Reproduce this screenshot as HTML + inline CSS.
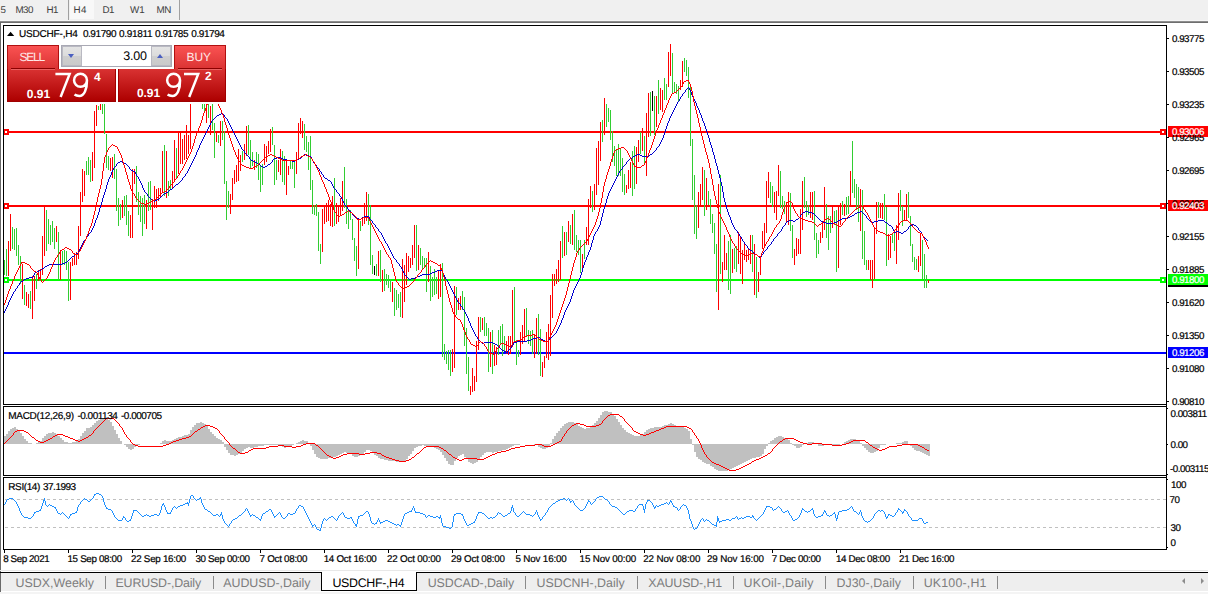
<!DOCTYPE html>
<html><head><meta charset="utf-8"><title>USDCHF-,H4</title>
<style>
html,body{margin:0;padding:0;background:#fff;}
body{width:1208px;height:594px;position:relative;overflow:hidden;font-family:"Liberation Sans",sans-serif;text-rendering:geometricPrecision;}
.a{position:absolute;white-space:nowrap;}
.t{position:absolute;white-space:nowrap;line-height:20px;}
.k{-webkit-text-stroke:0.2px currentColor;}
#tb{left:0;top:0;width:1208px;height:20px;background:#f0f0f0;}
#tbl1{left:0;top:20px;width:1208px;height:1px;background:#f6f6f6;}
#tbl2{left:0;top:21px;width:1208px;height:1px;background:#8e8e8e;}
#tbl3{left:0;top:22px;width:1208px;height:1px;background:#6e6e6e;}
#lb{left:0;top:22px;width:1px;height:570px;background:#696969;}
.sep{top:0;width:1px;height:20px;background:#a0a0a0;}
#h4bg{left:70px;top:0;width:24px;height:19px;background:#f8f8f8;}
.tag{left:1168px;width:40px;height:11px;}
#tabs{left:0;top:573px;width:1208px;height:18px;background:#eee;}
#tabsl{left:0;top:572px;width:1208px;height:1px;background:#000;}
#tabsl0{left:0;top:570px;width:1208px;height:1px;background:#e8e8e8;}
.tsep{top:576px;width:1px;height:13px;background:#8a8a8a;}
.rb{background:linear-gradient(#fa5252,#d93232);border:1px solid #b01010;border-bottom:none;box-sizing:border-box;}
.rl{background:linear-gradient(#d93232,#ad0000);border:1px solid #a00000;border-top:none;box-sizing:border-box;}
.spb{background:linear-gradient(#e4e4e4 0%,#dcdcdc 48%,#cfcfcf 52%,#cacaca 100%);box-sizing:border-box;border:1px solid #b9b9c2}
</style></head><body>
<div class="a" id="tb"></div><div class="a" id="tbl1"></div><div class="a" id="tbl2"></div><div class="a" id="tbl3"></div><div class="a" id="lb"></div>
<div class="a" id="h4bg"></div>
<div class="a sep" style="left:68px"></div><div class="a sep" style="left:179px"></div>
<svg id="ch" class="a" style="left:0;top:0" width="1208" height="594" viewBox="0 0 1208 594" shape-rendering="crispEdges">
<rect x="4" y="131" width="1162" height="2" fill="#f00"/>
<rect x="4" y="205" width="1162" height="2" fill="#f00"/>
<rect x="4" y="279" width="1162" height="2" fill="#0f0"/>
<rect x="4" y="352" width="1162" height="2" fill="#00f"/>
<path d="M4.5 260V275M6.5 249V276M12.5 227V249M14.5 229V250M16.5 228V256M18.5 245V265M20.5 256V284M24.5 285V305M30.5 291V309M36.5 274V289M46.5 210V251M48.5 219V244M50.5 225V245M52.5 221V242M54.5 228V249M58.5 232V280M62.5 251V265M64.5 250V265M66.5 251V270M68.5 262V301M86.5 161V175M88.5 157V175M90.5 160V182M98.5 106V110M102.5 104V114M104.5 104V134M106.5 134V168M108.5 156V170M114.5 154V179M116.5 169V211M118.5 198V226M120.5 204V220M124.5 196V216M126.5 195V225M128.5 211V236M136.5 166V202M138.5 192V215M140.5 196V222M142.5 198V236M144.5 195V224M148.5 182V211M150.5 181V210M164.5 145V196M168.5 181V196M170.5 180V190M176.5 148V178M202.5 104V109M204.5 104V112M208.5 104V118M212.5 104V130M214.5 123V158M218.5 135V143M222.5 121V140M224.5 131V184M226.5 181V220M228.5 191V208M242.5 151V162M248.5 125V155M250.5 140V168M252.5 152V166M256.5 152V168M258.5 154V180M260.5 166V192M262.5 164V185M272.5 127V145M274.5 145V185M276.5 160V180M282.5 151V182M284.5 156V185M290.5 160V169M292.5 161V169M294.5 160V188M304.5 124V150M306.5 136V152M308.5 142V170M310.5 136V190M312.5 180V214M314.5 205V215M316.5 204V216M318.5 212V251M320.5 244V264M334.5 178V226M344.5 167V208M346.5 199V224M348.5 209V229M350.5 210V220M352.5 219V240M354.5 238V261M356.5 246V276M360.5 221V231M368.5 194V225M370.5 205V265M372.5 255V274M376.5 264V276M380.5 250V282M384.5 269V291M386.5 274V285M388.5 275V288M390.5 279V292M394.5 288V316M396.5 290V310M398.5 294V308M400.5 292V317M416.5 225V271M420.5 248V265M422.5 256V270M424.5 258V268M426.5 258V292M430.5 266V301M432.5 277V297M434.5 269V295M436.5 277V294M442.5 263V357M444.5 344V360M446.5 351V364M448.5 350V370M450.5 350V376M456.5 287V315M462.5 291V310M464.5 297V346M466.5 328V374M468.5 357V391M480.5 317V332M484.5 317V336M486.5 323V336M488.5 328V372M492.5 330V374M498.5 330V355M500.5 326V344M502.5 324V356M504.5 336V352M514.5 287V342M516.5 340V365M518.5 350V357M526.5 308V336M528.5 330V344M530.5 331V346M532.5 330V354M538.5 314V355M540.5 329V376M562.5 226V258M566.5 232V255M570.5 225V244M574.5 210V250M576.5 235V252M578.5 240V255M580.5 240V273M584.5 240V259M592.5 191V212M602.5 120V142M606.5 104V127M608.5 108V122M610.5 110V140M612.5 131V162M614.5 146V166M616.5 150V176M618.5 144V176M620.5 148V176M622.5 158V192M624.5 174V195M632.5 151V196M634.5 146V189M640.5 132V154M644.5 136V164M650.5 92V136M654.5 96V135M658.5 80V114M664.5 78V100M666.5 84V100M672.5 53V94M674.5 82V92M676.5 84V94M678.5 86V102M684.5 58V72M686.5 60V76M688.5 67V98M690.5 86V146M692.5 139V200M694.5 175V234M696.5 205V239M704.5 170V216M708.5 191V205M710.5 199V224M712.5 214V233M714.5 223V254M716.5 244V292M720.5 175V274M728.5 241V290M730.5 235V294M734.5 248V269M736.5 246V272M752.5 235V272M756.5 257V298M770.5 182V203M772.5 186V207M780.5 171V208M782.5 196V209M784.5 201V214M790.5 193V231M792.5 225V258M804.5 177V208M806.5 201V217M808.5 205V215M814.5 191V240M816.5 233V258M818.5 240V254M826.5 204V238M828.5 216V250M830.5 216V233M834.5 211V225M836.5 210V272M842.5 201V215M846.5 197V215M848.5 196V214M852.5 141V193M854.5 179V198M856.5 184V210M858.5 187V222M862.5 190V259M864.5 231V265M866.5 260V270M878.5 202V218M884.5 194V220M886.5 207V266M892.5 234V243M894.5 232V251M900.5 190V211M902.5 206V226M908.5 192V218M910.5 216V246M912.5 244V262M914.5 257V270M916.5 259V270M922.5 240V279M924.5 254V288M926.5 275V288" stroke="#32cd32" stroke-width="1" fill="none"/>
<path d="M8.5 241V276M10.5 214V251M22.5 264V299M26.5 292V306M28.5 294V308M32.5 276V319M34.5 276V301M38.5 270V281M40.5 269V280M42.5 236V275M44.5 206V256M56.5 226V242M60.5 250V280M70.5 262V300M72.5 258V266M74.5 254V265M76.5 252V265M78.5 226V259M80.5 192V236M82.5 169V202M84.5 171V196M92.5 152V181M94.5 111V168M96.5 105V126M100.5 104V110M110.5 158V171M112.5 157V178M122.5 200V218M130.5 215V238M132.5 169V238M134.5 169V184M146.5 200V229M152.5 199V230M154.5 186V208M156.5 189V208M158.5 188V201M160.5 188V198M162.5 151V192M166.5 151V198M172.5 171V188M174.5 140V182M178.5 132V174M180.5 131V164M182.5 139V164M184.5 135V160M186.5 125V159M188.5 135V154M190.5 104V149M206.5 104V123M210.5 106V135M216.5 133V142M220.5 121V146M230.5 194V214M232.5 178V200M234.5 170V184M236.5 165V182M238.5 149V181M240.5 155V171M244.5 144V160M246.5 126V156M254.5 160V170M264.5 144V165M266.5 146V162M268.5 141V154M270.5 129V152M278.5 160V172M280.5 149V175M286.5 160V195M288.5 166V175M296.5 152V174M298.5 123V160M300.5 118V134M302.5 121V138M322.5 209V252M324.5 205V224M326.5 203V222M328.5 200V221M330.5 204V226M332.5 196V227M336.5 203V224M338.5 206V222M340.5 198V216M342.5 181V211M358.5 219V269M362.5 219V226M364.5 203V224M366.5 192V221M378.5 251V276M382.5 270V292M392.5 282V302M402.5 259V318M404.5 265V302M406.5 253V285M408.5 256V272M410.5 258V268M412.5 245V265M414.5 225V258M418.5 245V270M428.5 252V282M438.5 270V299M440.5 264V297M452.5 349V372M454.5 286V368M458.5 298V310M460.5 296V310M470.5 386V395M472.5 368V392M474.5 376V391M476.5 341V382M478.5 317V350M482.5 318V330M490.5 332V367M494.5 345V366M496.5 347V365M506.5 341V354M508.5 336V355M510.5 336V354M512.5 290V347M520.5 332V355M522.5 325V344M524.5 309V341M534.5 334V358M536.5 318V354M542.5 362V377M544.5 356V368M546.5 332V358M548.5 324V360M550.5 295V356M552.5 274V318M554.5 274V286M556.5 269V284M558.5 260V282M560.5 241V280M564.5 232V256M568.5 221V242M572.5 214V245M582.5 254V268M586.5 227V245M588.5 199V245M590.5 186V208M594.5 184V210M596.5 148V195M598.5 141V185M600.5 122V161M604.5 98V135M626.5 185V193M628.5 170V189M630.5 162V188M636.5 147V184M638.5 140V162M642.5 128V151M646.5 113V176M648.5 93V137M656.5 96V127M660.5 88V110M662.5 90V112M668.5 52V87M670.5 44V76M680.5 80V90M682.5 61V87M698.5 192V228M700.5 184V206M702.5 167V200M706.5 178V210M718.5 184V310M722.5 262V282M724.5 235V270M726.5 253V270M732.5 249V273M738.5 232V264M740.5 236V274M742.5 250V284M744.5 244V260M746.5 250V262M748.5 248V260M750.5 235V264M754.5 244V295M758.5 272V292M760.5 257V275M762.5 231V249M764.5 223V248M766.5 181V233M768.5 172V198M774.5 192V213M776.5 191V220M778.5 165V196M786.5 202V222M788.5 192V225M794.5 249V265M796.5 238V256M798.5 239V254M800.5 209V254M802.5 181V230M810.5 192V218M812.5 192V220M820.5 232V243M822.5 222V238M824.5 187V230M832.5 205V228M838.5 205V268M840.5 203V225M844.5 204V216M850.5 171V207M860.5 189V231M868.5 260V270M870.5 260V280M872.5 260V288M874.5 227V279M876.5 202V234M880.5 203V218M882.5 203V219M888.5 234V260M890.5 236V258M896.5 225V264M898.5 193V240M904.5 210V220M906.5 194V220M918.5 256V272M920.5 233V266M928.5 280V283" stroke="#f00" stroke-width="1" fill="none"/>
<path d="M374.5 266V275M652.5 91V111" stroke="#000" stroke-width="1" fill="none"/>
<path d="M4.5 311v2M5.5 309v2M6.5 307v2M7.5 305v2M8.5 302v3M9.5 300v2M10.5 298v2M11.5 296v2M12.5 294v2M13.5 292v2M14.5 291v1M15.5 289v2M16.5 288v1M17.5 286v2M18.5 285v1M19.5 283v2M20.5 282v1M21.5 281v1M22.5 281v1M23.5 280v1M24.5 279v1M25.5 279v1M26.5 278v1M27.5 278v1M28.5 278v1M29.5 277v1M30.5 277v1M31.5 277v1M32.5 277v1M33.5 275v2M34.5 273v2M35.5 272v1M36.5 272v1M37.5 271v1M38.5 271v1M39.5 270v1M40.5 270v1M41.5 269v1M42.5 268v1M43.5 268v1M44.5 267v1M45.5 266v1M46.5 266v1M47.5 265v1M48.5 265v1M49.5 264v1M50.5 264v1M51.5 264v1M52.5 264v1M53.5 264v1M54.5 264v1M55.5 264v1M56.5 264v1M57.5 264v1M58.5 264v1M59.5 264v1M60.5 264v1M61.5 264v1M62.5 263v1M63.5 263v1M64.5 263v1M65.5 262v1M66.5 262v1M67.5 261v1M68.5 260v1M69.5 259v1M70.5 258v1M71.5 257v1M72.5 256v1M73.5 256v1M74.5 255v1M75.5 254v1M76.5 253v1M77.5 253v1M78.5 251v2M79.5 249v2M80.5 247v2M81.5 245v2M82.5 243v2M83.5 241v2M84.5 240v1M85.5 239v1M86.5 237v2M87.5 236v1M88.5 234v2M89.5 233v1M90.5 232v1M91.5 230v2M92.5 228v2M93.5 226v2M94.5 223v3M95.5 220v3M96.5 218v2M97.5 215v3M98.5 212v3M99.5 208v4M100.5 205v3M101.5 202v3M102.5 198v4M103.5 195v3M104.5 192v3M105.5 189v3M106.5 185v4M107.5 182v3M108.5 179v3M109.5 177v2M110.5 175v2M111.5 172v3M112.5 170v2M113.5 168v2M114.5 167v1M115.5 166v1M116.5 164v2M117.5 163v1M118.5 162v1M119.5 162v1M120.5 161v1M121.5 161v1M122.5 162v1M123.5 162v1M124.5 163v1M125.5 163v1M126.5 164v1M127.5 165v1M128.5 166v1M129.5 167v2M130.5 169v1M131.5 170v1M132.5 170v1M133.5 171v1M134.5 171v1M135.5 172v2M136.5 174v2M137.5 176v1M138.5 177v2M139.5 179v2M140.5 181v2M141.5 183v2M142.5 185v3M143.5 188v2M144.5 190v2M145.5 192v1M146.5 193v1M147.5 194v2M148.5 196v1M149.5 197v1M150.5 198v1M151.5 199v1M152.5 200v1M153.5 200v1M154.5 201v1M155.5 200v1M156.5 200v1M157.5 199v1M158.5 199v1M159.5 198v1M160.5 197v1M161.5 196v1M162.5 195v1M163.5 194v1M164.5 193v1M165.5 193v1M166.5 192v1M167.5 192v1M168.5 191v1M169.5 190v1M170.5 189v1M171.5 189v1M172.5 188v1M173.5 187v1M174.5 186v1M175.5 185v1M176.5 184v1M177.5 184v1M178.5 183v1M179.5 182v1M180.5 181v1M181.5 180v1M182.5 178v2M183.5 177v1M184.5 176v1M185.5 174v2M186.5 173v1M187.5 171v2M188.5 169v2M189.5 167v2M190.5 165v2M191.5 163v2M192.5 161v2M193.5 159v2M194.5 157v2M195.5 155v2M196.5 152v3M197.5 150v2M198.5 148v2M199.5 145v3M200.5 143v2M201.5 141v2M202.5 139v2M203.5 137v2M204.5 135v2M205.5 133v2M206.5 131v2M207.5 129v2M208.5 127v2M209.5 125v2M210.5 123v2M211.5 121v2M212.5 120v1M213.5 119v1M214.5 118v1M215.5 117v1M216.5 116v1M217.5 115v1M218.5 115v1M219.5 114v1M220.5 114v1M221.5 113v1M222.5 113v1M223.5 114v1M224.5 115v2M225.5 117v1M226.5 118v1M227.5 119v2M228.5 121v2M229.5 123v2M230.5 125v2M231.5 127v2M232.5 129v2M233.5 131v2M234.5 133v2M235.5 135v2M236.5 137v2M237.5 139v2M238.5 141v2M239.5 143v2M240.5 145v2M241.5 147v2M242.5 149v1M243.5 150v1M244.5 151v2M245.5 153v1M246.5 154v1M247.5 155v1M248.5 156v1M249.5 157v2M250.5 159v1M251.5 160v1M252.5 160v1M253.5 161v1M254.5 161v1M255.5 162v1M256.5 162v1M257.5 163v1M258.5 164v1M259.5 164v1M260.5 165v1M261.5 166v1M262.5 166v1M263.5 167v1M264.5 167v1M265.5 166v1M266.5 166v1M267.5 165v1M268.5 164v1M269.5 164v1M270.5 163v1M271.5 162v1M272.5 160v2M273.5 159v1M274.5 158v1M275.5 158v1M276.5 158v1M277.5 157v1M278.5 157v1M279.5 157v1M280.5 157v1M281.5 158v1M282.5 158v1M283.5 159v1M284.5 159v1M285.5 159v1M286.5 159v1M287.5 160v1M288.5 160v1M289.5 160v1M290.5 160v1M291.5 160v1M292.5 161v1M293.5 161v1M294.5 161v1M295.5 160v1M296.5 160v1M297.5 159v1M298.5 159v1M299.5 158v1M300.5 158v1M301.5 157v1M302.5 156v1M303.5 155v1M304.5 154v1M305.5 154v1M306.5 155v1M307.5 155v1M308.5 155v1M309.5 156v1M310.5 156v1M311.5 157v2M312.5 159v2M313.5 161v2M314.5 163v1M315.5 164v1M316.5 165v2M317.5 167v1M318.5 168v1M319.5 169v2M320.5 171v1M321.5 172v2M322.5 174v1M323.5 175v2M324.5 177v1M325.5 178v1M326.5 178v1M327.5 179v1M328.5 180v1M329.5 180v1M330.5 181v1M331.5 182v2M332.5 184v2M333.5 186v2M334.5 188v1M335.5 189v1M336.5 190v2M337.5 192v1M338.5 193v1M339.5 194v2M340.5 196v1M341.5 197v2M342.5 199v2M343.5 201v2M344.5 203v2M345.5 205v1M346.5 206v1M347.5 207v2M348.5 209v1M349.5 210v1M350.5 211v1M351.5 212v1M352.5 213v2M353.5 215v1M354.5 216v1M355.5 217v1M356.5 217v1M357.5 218v1M358.5 218v1M359.5 219v1M360.5 219v1M361.5 218v1M362.5 217v1M363.5 217v1M364.5 216v1M365.5 216v1M366.5 216v1M367.5 216v1M368.5 216v1M369.5 217v2M370.5 219v1M371.5 220v1M372.5 221v2M373.5 223v1M374.5 224v1M375.5 225v2M376.5 227v1M377.5 228v1M378.5 229v2M379.5 231v1M380.5 232v1M381.5 233v2M382.5 235v2M383.5 237v2M384.5 239v2M385.5 241v2M386.5 243v1M387.5 244v2M388.5 246v2M389.5 248v2M390.5 250v2M391.5 252v2M392.5 254v2M393.5 256v2M394.5 258v1M395.5 259v1M396.5 260v2M397.5 262v1M398.5 263v1M399.5 264v2M400.5 266v1M401.5 267v2M402.5 269v2M403.5 271v2M404.5 273v2M405.5 275v1M406.5 276v1M407.5 277v1M408.5 278v1M409.5 279v1M410.5 279v1M411.5 278v1M412.5 278v1M413.5 278v1M414.5 278v1M415.5 277v1M416.5 277v1M417.5 276v1M418.5 276v1M419.5 276v1M420.5 275v1M421.5 275v1M422.5 274v1M423.5 274v1M424.5 274v1M425.5 274v1M426.5 274v1M427.5 274v1M428.5 274v1M429.5 274v1M430.5 273v1M431.5 273v1M432.5 272v1M433.5 272v1M434.5 272v1M435.5 271v1M436.5 271v1M437.5 270v1M438.5 270v1M439.5 270v1M440.5 270v1M441.5 270v1M442.5 271v2M443.5 273v2M444.5 275v2M445.5 277v2M446.5 279v1M447.5 280v2M448.5 282v2M449.5 284v2M450.5 286v2M451.5 288v2M452.5 290v2M453.5 292v2M454.5 294v2M455.5 296v2M456.5 298v2M457.5 300v2M458.5 302v1M459.5 303v1M460.5 304v2M461.5 306v1M462.5 307v2M463.5 309v1M464.5 310v2M465.5 312v2M466.5 314v2M467.5 316v2M468.5 318v3M469.5 321v2M470.5 323v3M471.5 326v2M472.5 328v2M473.5 330v2M474.5 332v2M475.5 334v2M476.5 336v1M477.5 337v2M478.5 339v1M479.5 340v1M480.5 341v1M481.5 342v1M482.5 343v1M483.5 343v1M484.5 342v1M485.5 342v1M486.5 342v1M487.5 342v1M488.5 342v1M489.5 342v1M490.5 342v1M491.5 342v1M492.5 342v1M493.5 343v1M494.5 343v1M495.5 344v1M496.5 344v1M497.5 345v1M498.5 346v1M499.5 347v1M500.5 348v1M501.5 349v1M502.5 350v1M503.5 350v1M504.5 351v1M505.5 351v1M506.5 352v1M507.5 351v1M508.5 350v1M509.5 349v1M510.5 348v1M511.5 346v2M512.5 345v1M513.5 343v2M514.5 342v1M515.5 342v1M516.5 342v1M517.5 341v1M518.5 341v1M519.5 341v1M520.5 341v1M521.5 341v1M522.5 341v1M523.5 341v1M524.5 341v1M525.5 341v1M526.5 341v1M527.5 340v1M528.5 340v1M529.5 340v1M530.5 340v1M531.5 339v1M532.5 339v1M533.5 338v1M534.5 338v1M535.5 338v1M536.5 338v1M537.5 337v1M538.5 337v1M539.5 337v1M540.5 338v1M541.5 339v1M542.5 339v1M543.5 340v1M544.5 340v1M545.5 341v1M546.5 341v1M547.5 341v1M548.5 340v1M549.5 339v1M550.5 338v1M551.5 337v1M552.5 336v1M553.5 335v1M554.5 334v1M555.5 333v1M556.5 331v2M557.5 329v2M558.5 327v2M559.5 325v2M560.5 323v2M561.5 320v3M562.5 318v2M563.5 315v3M564.5 312v3M565.5 310v2M566.5 308v2M567.5 306v2M568.5 304v2M569.5 302v2M570.5 299v3M571.5 296v3M572.5 293v3M573.5 290v3M574.5 288v2M575.5 286v2M576.5 284v2M577.5 282v2M578.5 280v2M579.5 278v2M580.5 275v3M581.5 272v3M582.5 268v4M583.5 265v3M584.5 262v3M585.5 260v2M586.5 257v3M587.5 255v2M588.5 252v3M589.5 250v2M590.5 247v3M591.5 243v4M592.5 240v3M593.5 236v4M594.5 234v2M595.5 232v2M596.5 231v1M597.5 229v2M598.5 227v2M599.5 225v2M600.5 221v4M601.5 217v4M602.5 213v4M603.5 209v4M604.5 206v3M605.5 203v3M606.5 199v4M607.5 196v3M608.5 193v3M609.5 191v2M610.5 189v2M611.5 187v2M612.5 185v2M613.5 183v2M614.5 181v2M615.5 179v2M616.5 177v2M617.5 175v2M618.5 173v2M619.5 171v2M620.5 170v1M621.5 169v1M622.5 167v2M623.5 166v1M624.5 165v1M625.5 164v1M626.5 162v2M627.5 161v1M628.5 160v1M629.5 159v1M630.5 158v1M631.5 158v1M632.5 157v1M633.5 156v1M634.5 156v1M635.5 155v1M636.5 155v1M637.5 154v1M638.5 154v1M639.5 154v1M640.5 155v1M641.5 155v1M642.5 156v1M643.5 156v1M644.5 156v1M645.5 156v1M646.5 156v1M647.5 156v1M648.5 156v1M649.5 155v1M650.5 154v1M651.5 154v1M652.5 153v1M653.5 152v1M654.5 151v1M655.5 150v1M656.5 148v2M657.5 147v1M658.5 146v1M659.5 144v2M660.5 142v2M661.5 140v2M662.5 138v2M663.5 135v3M664.5 132v3M665.5 129v3M666.5 126v3M667.5 123v3M668.5 121v2M669.5 118v3M670.5 116v2M671.5 114v2M672.5 112v2M673.5 110v2M674.5 108v2M675.5 106v2M676.5 104v2M677.5 102v2M678.5 101v1M679.5 99v2M680.5 97v2M681.5 96v1M682.5 94v2M683.5 93v1M684.5 92v1M685.5 90v2M686.5 89v1M687.5 88v1M688.5 87v1M689.5 88v2M690.5 90v2M691.5 92v3M692.5 95v2M693.5 97v2M694.5 99v2M695.5 101v2M696.5 103v3M697.5 106v2M698.5 108v2M699.5 110v3M700.5 113v2M701.5 115v3M702.5 118v3M703.5 121v2M704.5 123v3M705.5 126v3M706.5 129v3M707.5 132v3M708.5 135v3M709.5 138v4M710.5 142v3M711.5 145v3M712.5 148v4M713.5 152v3M714.5 155v4M715.5 159v4M716.5 163v3M717.5 166v4M718.5 170v4M719.5 174v4M720.5 178v4M721.5 182v4M722.5 186v6M723.5 192v6M724.5 198v4M725.5 202v3M726.5 205v4M727.5 209v3M728.5 212v3M729.5 215v2M730.5 217v3M731.5 220v3M732.5 223v2M733.5 225v2M734.5 227v2M735.5 229v1M736.5 230v1M737.5 231v2M738.5 233v1M739.5 234v2M740.5 236v1M741.5 237v2M742.5 239v2M743.5 241v1M744.5 242v2M745.5 244v1M746.5 245v1M747.5 246v2M748.5 248v1M749.5 249v1M750.5 250v1M751.5 250v1M752.5 251v1M753.5 252v1M754.5 253v1M755.5 254v1M756.5 254v1M757.5 255v1M758.5 256v1M759.5 257v1M760.5 257v1M761.5 255v2M762.5 254v1M763.5 252v2M764.5 251v1M765.5 250v1M766.5 249v1M767.5 247v2M768.5 246v1M769.5 245v1M770.5 244v1M771.5 242v2M772.5 241v1M773.5 239v2M774.5 238v1M775.5 237v1M776.5 236v1M777.5 234v2M778.5 233v1M779.5 232v1M780.5 231v1M781.5 229v2M782.5 227v2M783.5 226v1M784.5 225v1M785.5 223v2M786.5 222v1M787.5 221v1M788.5 221v1M789.5 220v1M790.5 220v1M791.5 220v1M792.5 220v1M793.5 221v1M794.5 221v1M795.5 220v1M796.5 219v1M797.5 219v1M798.5 218v1M799.5 217v1M800.5 215v2M801.5 214v1M802.5 213v1M803.5 212v1M804.5 212v1M805.5 211v1M806.5 211v1M807.5 211v1M808.5 212v1M809.5 212v1M810.5 212v1M811.5 212v1M812.5 213v1M813.5 213v1M814.5 214v1M815.5 215v1M816.5 216v1M817.5 217v1M818.5 218v1M819.5 219v1M820.5 220v1M821.5 221v1M822.5 221v1M823.5 222v1M824.5 222v1M825.5 222v1M826.5 223v1M827.5 223v1M828.5 223v1M829.5 223v1M830.5 223v1M831.5 223v1M832.5 223v1M833.5 223v1M834.5 222v1M835.5 222v1M836.5 222v1M837.5 221v1M838.5 220v1M839.5 220v1M840.5 219v1M841.5 219v1M842.5 218v1M843.5 218v1M844.5 218v1M845.5 218v1M846.5 218v1M847.5 218v1M848.5 217v1M849.5 217v1M850.5 216v1M851.5 216v1M852.5 215v1M853.5 215v1M854.5 214v1M855.5 213v1M856.5 213v1M857.5 212v1M858.5 212v1M859.5 212v1M860.5 211v1M861.5 211v1M862.5 212v1M863.5 213v1M864.5 214v1M865.5 215v1M866.5 216v2M867.5 218v1M868.5 219v1M869.5 220v1M870.5 221v1M871.5 221v1M872.5 222v1M873.5 222v1M874.5 221v1M875.5 221v1M876.5 221v1M877.5 221v1M878.5 220v1M879.5 220v1M880.5 220v1M881.5 220v1M882.5 220v1M883.5 220v1M884.5 221v1M885.5 222v1M886.5 222v1M887.5 223v1M888.5 224v1M889.5 225v1M890.5 225v1M891.5 226v1M892.5 227v2M893.5 229v2M894.5 231v2M895.5 232v1M896.5 231v1M897.5 231v1M898.5 231v1M899.5 232v1M900.5 232v1M901.5 233v1M902.5 233v1M903.5 232v1M904.5 231v1M905.5 231v1M906.5 230v1M907.5 229v1M908.5 227v2M909.5 226v1M910.5 225v1M911.5 225v1M912.5 224v1M913.5 224v1M914.5 225v1M915.5 225v1M916.5 226v1M917.5 227v1M918.5 228v2M919.5 230v1M920.5 231v1M921.5 232v2M922.5 234v2M923.5 236v1M924.5 237v1M925.5 238v1M926.5 239v1M927.5 240v1" stroke="#0000cd" stroke-width="1" fill="none"/>
<path d="M4.5 303v2M5.5 300v3M6.5 297v3M7.5 294v3M8.5 291v3M9.5 289v2M10.5 286v3M11.5 284v2M12.5 281v3M13.5 279v2M14.5 276v3M15.5 274v2M16.5 272v2M17.5 270v2M18.5 268v2M19.5 266v2M20.5 264v2M21.5 262v2M22.5 262v1M23.5 262v1M24.5 262v1M25.5 263v1M26.5 263v1M27.5 264v1M28.5 264v1M29.5 265v1M30.5 266v2M31.5 268v1M32.5 269v1M33.5 270v1M34.5 271v1M35.5 271v1M36.5 272v1M37.5 273v2M38.5 275v2M39.5 277v2M40.5 279v1M41.5 280v2M42.5 282v1M43.5 281v1M44.5 280v1M45.5 279v1M46.5 278v1M47.5 276v2M48.5 274v2M49.5 272v2M50.5 269v3M51.5 267v2M52.5 264v3M53.5 262v2M54.5 260v2M55.5 258v2M56.5 257v1M57.5 255v2M58.5 254v1M59.5 252v2M60.5 251v1M61.5 250v1M62.5 249v1M63.5 249v1M64.5 248v1M65.5 247v1M66.5 247v1M67.5 248v1M68.5 248v1M69.5 249v1M70.5 249v1M71.5 250v1M72.5 251v2M73.5 253v1M74.5 253v1M75.5 254v1M76.5 254v1M77.5 254v1M78.5 252v2M79.5 251v1M80.5 249v2M81.5 247v2M82.5 245v2M83.5 243v2M84.5 241v2M85.5 239v2M86.5 236v3M87.5 234v2M88.5 231v3M89.5 228v3M90.5 226v2M91.5 223v3M92.5 219v4M93.5 215v4M94.5 211v4M95.5 207v4M96.5 202v5M97.5 197v5M98.5 193v4M99.5 189v4M100.5 185v4M101.5 179v6M102.5 171v8M103.5 163v8M104.5 157v6M105.5 155v2M106.5 152v3M107.5 150v2M108.5 148v2M109.5 147v1M110.5 146v1M111.5 145v1M112.5 144v1M113.5 145v1M114.5 145v1M115.5 146v1M116.5 146v1M117.5 147v2M118.5 149v2M119.5 151v2M120.5 153v2M121.5 155v3M122.5 158v4M123.5 162v3M124.5 165v3M125.5 168v4M126.5 172v3M127.5 175v4M128.5 179v3M129.5 182v3M130.5 185v4M131.5 189v2M132.5 191v2M133.5 193v1M134.5 194v2M135.5 196v2M136.5 198v1M137.5 199v1M138.5 200v1M139.5 201v1M140.5 202v1M141.5 203v1M142.5 203v1M143.5 203v1M144.5 204v1M145.5 204v1M146.5 204v1M147.5 203v1M148.5 203v1M149.5 202v1M150.5 202v1M151.5 201v1M152.5 200v1M153.5 200v1M154.5 199v1M155.5 199v1M156.5 198v1M157.5 197v1M158.5 196v1M159.5 195v1M160.5 194v1M161.5 193v1M162.5 192v1M163.5 192v1M164.5 191v1M165.5 191v1M166.5 190v1M167.5 189v1M168.5 188v1M169.5 186v2M170.5 185v1M171.5 184v1M172.5 183v1M173.5 182v1M174.5 180v2M175.5 179v1M176.5 178v1M177.5 176v2M178.5 175v1M179.5 173v2M180.5 171v2M181.5 170v1M182.5 168v2M183.5 166v2M184.5 164v2M185.5 162v2M186.5 160v2M187.5 158v2M188.5 156v2M189.5 154v2M190.5 152v2M191.5 149v3M192.5 146v3M193.5 143v3M194.5 139v4M195.5 136v3M196.5 133v3M197.5 131v2M198.5 128v3M199.5 126v2M200.5 123v3M201.5 120v3M202.5 116v4M203.5 113v3M204.5 111v2M205.5 108v3M206.5 105v3M207.5 102v3M208.5 100v2M209.5 98v2M210.5 96v2M211.5 94v2M212.5 92v2M213.5 93v2M214.5 95v2M215.5 97v2M216.5 99v2M217.5 101v2M218.5 103v3M219.5 106v2M220.5 108v2M221.5 110v3M222.5 113v2M223.5 115v3M224.5 118v4M225.5 122v3M226.5 125v3M227.5 128v4M228.5 132v3M229.5 135v3M230.5 138v3M231.5 141v3M232.5 144v3M233.5 147v3M234.5 150v2M235.5 152v3M236.5 155v2M237.5 157v2M238.5 159v2M239.5 161v1M240.5 162v2M241.5 164v1M242.5 165v1M243.5 165v1M244.5 166v1M245.5 166v1M246.5 167v1M247.5 167v1M248.5 167v1M249.5 168v1M250.5 168v1M251.5 168v1M252.5 168v1M253.5 167v1M254.5 167v1M255.5 166v1M256.5 166v1M257.5 165v1M258.5 164v1M259.5 163v1M260.5 162v1M261.5 161v1M262.5 160v1M263.5 159v1M264.5 158v1M265.5 157v1M266.5 156v1M267.5 156v1M268.5 155v1M269.5 155v1M270.5 154v1M271.5 154v1M272.5 155v1M273.5 155v1M274.5 156v1M275.5 156v1M276.5 157v1M277.5 157v1M278.5 158v1M279.5 158v1M280.5 159v1M281.5 159v1M282.5 160v1M283.5 160v1M284.5 160v1M285.5 160v1M286.5 160v1M287.5 160v1M288.5 160v1M289.5 160v1M290.5 160v1M291.5 160v1M292.5 160v1M293.5 160v1M294.5 160v1M295.5 160v1M296.5 160v1M297.5 159v1M298.5 158v1M299.5 158v1M300.5 157v1M301.5 156v1M302.5 156v1M303.5 155v1M304.5 155v1M305.5 154v1M306.5 154v1M307.5 155v1M308.5 156v1M309.5 156v1M310.5 157v1M311.5 158v1M312.5 159v2M313.5 161v1M314.5 162v2M315.5 164v2M316.5 166v2M317.5 168v2M318.5 170v2M319.5 172v3M320.5 175v2M321.5 177v3M322.5 180v2M323.5 182v2M324.5 184v3M325.5 187v2M326.5 189v3M327.5 192v2M328.5 194v3M329.5 197v3M330.5 200v2M331.5 202v3M332.5 205v2M333.5 207v3M334.5 210v2M335.5 212v1M336.5 213v2M337.5 215v1M338.5 216v1M339.5 216v1M340.5 215v1M341.5 215v1M342.5 214v1M343.5 214v1M344.5 213v1M345.5 212v1M346.5 212v1M347.5 211v1M348.5 210v1M349.5 211v1M350.5 212v1M351.5 212v1M352.5 213v1M353.5 214v1M354.5 215v1M355.5 216v1M356.5 217v2M357.5 219v1M358.5 220v1M359.5 219v1M360.5 219v1M361.5 218v1M362.5 218v1M363.5 217v1M364.5 217v1M365.5 217v1M366.5 217v1M367.5 217v1M368.5 217v2M369.5 219v2M370.5 221v2M371.5 223v2M372.5 225v2M373.5 227v2M374.5 229v2M375.5 231v2M376.5 233v2M377.5 235v2M378.5 237v2M379.5 239v2M380.5 241v1M381.5 242v2M382.5 244v2M383.5 246v2M384.5 248v2M385.5 250v2M386.5 252v2M387.5 254v1M388.5 255v2M389.5 257v1M390.5 258v2M391.5 260v4M392.5 264v4M393.5 268v4M394.5 272v4M395.5 276v4M396.5 280v2M397.5 282v1M398.5 283v2M399.5 285v1M400.5 286v1M401.5 287v1M402.5 287v1M403.5 288v1M404.5 288v1M405.5 287v1M406.5 287v1M407.5 286v1M408.5 286v1M409.5 285v1M410.5 284v1M411.5 283v1M412.5 282v1M413.5 281v1M414.5 279v2M415.5 278v1M416.5 277v1M417.5 275v2M418.5 274v1M419.5 273v1M420.5 272v1M421.5 270v2M422.5 269v1M423.5 268v1M424.5 267v1M425.5 265v2M426.5 264v1M427.5 263v1M428.5 262v1M429.5 261v1M430.5 260v1M431.5 261v1M432.5 261v1M433.5 262v1M434.5 262v1M435.5 263v1M436.5 263v1M437.5 264v1M438.5 265v1M439.5 265v1M440.5 266v2M441.5 268v2M442.5 270v3M443.5 273v4M444.5 277v4M445.5 281v5M446.5 286v4M447.5 290v4M448.5 294v4M449.5 298v4M450.5 302v3M451.5 305v3M452.5 308v4M453.5 312v2M454.5 314v1M455.5 315v2M456.5 317v1M457.5 318v1M458.5 319v1M459.5 319v1M460.5 320v2M461.5 322v2M462.5 324v3M463.5 327v3M464.5 330v2M465.5 332v3M466.5 335v2M467.5 337v2M468.5 339v1M469.5 340v2M470.5 342v2M471.5 344v1M472.5 344v1M473.5 345v1M474.5 345v1M475.5 346v1M476.5 346v1M477.5 345v1M478.5 343v2M479.5 342v1M480.5 341v1M481.5 342v1M482.5 342v1M483.5 343v1M484.5 344v2M485.5 346v1M486.5 347v2M487.5 349v2M488.5 351v1M489.5 352v1M490.5 352v1M491.5 353v1M492.5 353v1M493.5 354v1M494.5 352v2M495.5 351v1M496.5 349v2M497.5 348v1M498.5 347v1M499.5 345v2M500.5 344v1M501.5 343v1M502.5 343v1M503.5 343v1M504.5 344v1M505.5 344v1M506.5 344v1M507.5 345v1M508.5 345v1M509.5 346v1M510.5 346v1M511.5 345v1M512.5 343v2M513.5 342v1M514.5 341v1M515.5 341v1M516.5 341v1M517.5 340v1M518.5 340v1M519.5 340v1M520.5 340v1M521.5 339v1M522.5 338v1M523.5 337v1M524.5 336v1M525.5 336v1M526.5 336v1M527.5 335v1M528.5 335v1M529.5 335v1M530.5 335v1M531.5 335v1M532.5 334v1M533.5 334v1M534.5 334v1M535.5 335v1M536.5 336v1M537.5 337v1M538.5 338v1M539.5 339v1M540.5 339v1M541.5 340v1M542.5 340v1M543.5 341v1M544.5 341v1M545.5 341v1M546.5 341v1M547.5 341v1M548.5 339v2M549.5 337v2M550.5 335v2M551.5 333v2M552.5 331v2M553.5 329v2M554.5 327v2M555.5 325v2M556.5 322v3M557.5 319v3M558.5 316v3M559.5 313v3M560.5 310v3M561.5 307v3M562.5 304v3M563.5 301v3M564.5 298v3M565.5 295v3M566.5 291v4M567.5 287v4M568.5 283v4M569.5 279v4M570.5 275v4M571.5 271v4M572.5 267v4M573.5 263v4M574.5 260v3M575.5 257v3M576.5 253v4M577.5 251v2M578.5 250v1M579.5 248v2M580.5 247v1M581.5 246v1M582.5 245v1M583.5 244v1M584.5 243v1M585.5 242v1M586.5 241v1M587.5 239v2M588.5 237v2M589.5 235v2M590.5 233v2M591.5 231v2M592.5 229v2M593.5 227v2M594.5 225v2M595.5 222v3M596.5 219v3M597.5 216v3M598.5 212v4M599.5 208v4M600.5 203v5M601.5 198v5M602.5 192v6M603.5 186v6M604.5 182v4M605.5 179v3M606.5 175v4M607.5 172v3M608.5 169v3M609.5 166v3M610.5 162v4M611.5 159v3M612.5 156v3M613.5 153v3M614.5 151v2M615.5 150v1M616.5 149v1M617.5 149v1M618.5 148v1M619.5 148v1M620.5 148v1M621.5 147v1M622.5 147v1M623.5 147v1M624.5 148v1M625.5 149v1M626.5 150v1M627.5 151v2M628.5 153v2M629.5 155v2M630.5 157v2M631.5 159v2M632.5 161v2M633.5 163v2M634.5 165v2M635.5 166v1M636.5 166v1M637.5 167v1M638.5 167v1M639.5 167v1M640.5 167v1M641.5 166v1M642.5 165v1M643.5 165v1M644.5 163v2M645.5 161v2M646.5 158v3M647.5 156v2M648.5 153v3M649.5 150v3M650.5 148v2M651.5 145v3M652.5 142v3M653.5 139v3M654.5 136v3M655.5 133v3M656.5 130v3M657.5 128v2M658.5 125v3M659.5 123v2M660.5 120v3M661.5 118v2M662.5 115v3M663.5 113v2M664.5 110v3M665.5 108v2M666.5 105v3M667.5 103v2M668.5 100v3M669.5 98v2M670.5 96v2M671.5 94v2M672.5 93v1M673.5 93v1M674.5 92v1M675.5 92v1M676.5 91v1M677.5 90v1M678.5 89v1M679.5 88v1M680.5 87v1M681.5 86v1M682.5 84v2M683.5 82v2M684.5 81v1M685.5 81v1M686.5 80v1M687.5 80v1M688.5 80v2M689.5 82v2M690.5 84v3M691.5 87v4M692.5 91v5M693.5 96v6M694.5 102v4M695.5 106v4M696.5 110v4M697.5 114v4M698.5 118v5M699.5 123v4M700.5 127v4M701.5 131v5M702.5 136v4M703.5 140v4M704.5 144v4M705.5 148v4M706.5 152v3M707.5 155v4M708.5 159v4M709.5 163v5M710.5 168v6M711.5 174v5M712.5 179v6M713.5 185v6M714.5 191v5M715.5 196v4M716.5 200v4M717.5 204v4M718.5 208v4M719.5 212v2M720.5 214v3M721.5 217v2M722.5 219v2M723.5 221v2M724.5 223v2M725.5 225v2M726.5 227v3M727.5 230v2M728.5 232v2M729.5 234v3M730.5 237v2M731.5 239v2M732.5 241v2M733.5 243v1M734.5 244v2M735.5 246v2M736.5 248v1M737.5 249v1M738.5 250v1M739.5 251v1M740.5 252v1M741.5 253v1M742.5 254v1M743.5 254v1M744.5 255v1M745.5 255v1M746.5 256v1M747.5 255v1M748.5 255v1M749.5 254v1M750.5 254v1M751.5 253v1M752.5 253v1M753.5 253v1M754.5 254v1M755.5 254v1M756.5 254v1M757.5 255v1M758.5 256v1M759.5 256v1M760.5 256v2M761.5 253v3M762.5 251v2M763.5 248v3M764.5 246v2M765.5 244v2M766.5 242v2M767.5 241v1M768.5 239v2M769.5 237v2M770.5 236v1M771.5 234v2M772.5 232v2M773.5 230v2M774.5 228v2M775.5 227v1M776.5 225v2M777.5 224v1M778.5 223v1M779.5 221v2M780.5 219v2M781.5 215v4M782.5 212v3M783.5 209v3M784.5 207v2M785.5 205v2M786.5 203v2M787.5 202v1M788.5 202v1M789.5 201v1M790.5 201v1M791.5 202v1M792.5 203v2M793.5 205v4M794.5 209v2M795.5 211v2M796.5 213v1M797.5 214v2M798.5 216v1M799.5 217v1M800.5 217v1M801.5 218v1M802.5 218v1M803.5 219v1M804.5 219v1M805.5 220v1M806.5 220v1M807.5 220v1M808.5 221v1M809.5 221v1M810.5 221v1M811.5 221v1M812.5 222v1M813.5 222v1M814.5 223v1M815.5 224v1M816.5 225v1M817.5 226v1M818.5 225v1M819.5 224v1M820.5 224v1M821.5 223v1M822.5 222v1M823.5 221v1M824.5 220v1M825.5 219v1M826.5 219v1M827.5 218v1M828.5 218v1M829.5 219v1M830.5 220v1M831.5 221v1M832.5 222v1M833.5 223v1M834.5 223v1M835.5 224v1M836.5 224v1M837.5 225v1M838.5 225v1M839.5 226v1M840.5 226v1M841.5 225v1M842.5 223v2M843.5 222v1M844.5 221v1M845.5 219v2M846.5 218v1M847.5 217v1M848.5 216v1M849.5 215v1M850.5 214v1M851.5 213v1M852.5 212v1M853.5 211v1M854.5 210v1M855.5 209v1M856.5 208v1M857.5 208v1M858.5 207v1M859.5 207v1M860.5 206v1M861.5 206v1M862.5 206v1M863.5 207v2M864.5 209v1M865.5 210v2M866.5 212v1M867.5 213v2M868.5 215v2M869.5 217v2M870.5 219v2M871.5 221v2M872.5 223v2M873.5 225v2M874.5 227v1M875.5 228v1M876.5 229v1M877.5 230v1M878.5 231v1M879.5 231v1M880.5 232v1M881.5 232v1M882.5 232v1M883.5 233v1M884.5 233v1M885.5 234v1M886.5 235v1M887.5 235v1M888.5 236v1M889.5 235v1M890.5 234v1M891.5 234v1M892.5 233v1M893.5 232v1M894.5 230v2M895.5 229v1M896.5 228v1M897.5 226v2M898.5 225v1M899.5 223v2M900.5 222v1M901.5 221v1M902.5 221v1M903.5 220v1M904.5 220v1M905.5 220v1M906.5 220v1M907.5 220v1M908.5 221v1M909.5 222v1M910.5 223v1M911.5 224v1M912.5 225v2M913.5 227v1M914.5 228v1M915.5 229v1M916.5 230v1M917.5 231v1M918.5 232v1M919.5 232v1M920.5 233v1M921.5 233v1M922.5 234v2M923.5 236v2M924.5 238v2M925.5 240v2M926.5 242v3M927.5 245v2M928.5 247v2" stroke="#f00" stroke-width="1" fill="none"/>
<path d="M4 436h2V444h-2zM6 434h2V444h-2zM8 431h2V444h-2zM10 429h2V444h-2zM12 428h2V444h-2zM14 427h2V444h-2zM16 429h2V444h-2zM18 431h2V444h-2zM20 433h2V444h-2zM22 436h2V444h-2zM24 439h2V444h-2zM26 441h2V444h-2zM28 443h2V444h-2zM30 443h2V444h-2zM36 443h2V444h-2zM38 442h2V444h-2zM40 441h2V444h-2zM42 438h2V444h-2zM44 436h2V444h-2zM46 434h2V444h-2zM48 433h2V444h-2zM50 433h2V444h-2zM52 432h2V444h-2zM54 433h2V444h-2zM56 434h2V444h-2zM58 436h2V444h-2zM60 438h2V444h-2zM62 440h2V444h-2zM64 442h2V444h-2zM66 442h2V444h-2zM68 443h2V444h-2zM70 443h2V444h-2zM72 442h2V444h-2zM74 442h2V444h-2zM76 441h2V444h-2zM78 439h2V444h-2zM80 436h2V444h-2zM82 433h2V444h-2zM84 431h2V444h-2zM86 428h2V444h-2zM88 428h2V444h-2zM90 427h2V444h-2zM92 425h2V444h-2zM94 423h2V444h-2zM96 421h2V444h-2zM98 420h2V444h-2zM100 419h2V444h-2zM102 418h2V444h-2zM104 418h2V444h-2zM106 417h2V444h-2zM108 420h2V444h-2zM110 422h2V444h-2zM112 426h2V444h-2zM114 430h2V444h-2zM116 434h2V444h-2zM118 438h2V444h-2zM120 441h2V444h-2zM124 444h2V445h-2zM126 444h2V447h-2zM128 444h2V449h-2zM130 444h2V450h-2zM132 444h2V449h-2zM134 444h2V447h-2zM136 444h2V446h-2zM138 444h2V445h-2zM160 443h2V444h-2zM162 441h2V444h-2zM164 440h2V444h-2zM166 441h2V444h-2zM168 441h2V444h-2zM170 441h2V444h-2zM172 440h2V444h-2zM174 439h2V444h-2zM176 438h2V444h-2zM178 437h2V444h-2zM180 437h2V444h-2zM182 436h2V444h-2zM184 435h2V444h-2zM186 435h2V444h-2zM188 434h2V444h-2zM190 430h2V444h-2zM192 427h2V444h-2zM194 425h2V444h-2zM196 423h2V444h-2zM198 423h2V444h-2zM200 422h2V444h-2zM202 423h2V444h-2zM204 424h2V444h-2zM206 426h2V444h-2zM208 429h2V444h-2zM210 432h2V444h-2zM212 434h2V444h-2zM214 436h2V444h-2zM216 438h2V444h-2zM218 439h2V444h-2zM220 440h2V444h-2zM222 442h2V444h-2zM224 444h2V447h-2zM226 444h2V450h-2zM228 444h2V453h-2zM230 444h2V455h-2zM232 444h2V455h-2zM234 444h2V456h-2zM236 444h2V455h-2zM238 444h2V454h-2zM240 444h2V453h-2zM242 444h2V451h-2zM244 444h2V449h-2zM246 444h2V448h-2zM248 444h2V447h-2zM250 444h2V448h-2zM252 444h2V448h-2zM254 444h2V447h-2zM256 444h2V447h-2zM258 444h2V446h-2zM260 444h2V446h-2zM262 444h2V446h-2zM264 444h2V445h-2zM266 444h2V445h-2zM268 444h2V445h-2zM270 444h2V445h-2zM272 444h2V445h-2zM274 444h2V445h-2zM276 444h2V445h-2zM278 444h2V446h-2zM280 444h2V446h-2zM282 444h2V447h-2zM284 444h2V448h-2zM286 444h2V447h-2zM288 444h2V447h-2zM290 444h2V446h-2zM292 444h2V445h-2zM296 443h2V444h-2zM298 442h2V444h-2zM300 441h2V444h-2zM302 440h2V444h-2zM304 441h2V444h-2zM306 441h2V444h-2zM310 444h2V446h-2zM312 444h2V450h-2zM314 444h2V454h-2zM316 444h2V457h-2zM318 444h2V458h-2zM320 444h2V459h-2zM322 444h2V459h-2zM324 444h2V459h-2zM326 444h2V459h-2zM328 444h2V458h-2zM330 444h2V458h-2zM332 444h2V457h-2zM334 444h2V457h-2zM336 444h2V456h-2zM338 444h2V455h-2zM340 444h2V454h-2zM342 444h2V453h-2zM344 444h2V452h-2zM346 444h2V453h-2zM348 444h2V453h-2zM350 444h2V454h-2zM352 444h2V456h-2zM354 444h2V457h-2zM356 444h2V457h-2zM358 444h2V456h-2zM360 444h2V455h-2zM362 444h2V454h-2zM364 444h2V452h-2zM366 444h2V450h-2zM368 444h2V450h-2zM370 444h2V451h-2zM372 444h2V453h-2zM374 444h2V455h-2zM376 444h2V456h-2zM378 444h2V458h-2zM380 444h2V459h-2zM382 444h2V459h-2zM384 444h2V460h-2zM386 444h2V460h-2zM388 444h2V461h-2zM390 444h2V461h-2zM392 444h2V461h-2zM394 444h2V461h-2zM396 444h2V462h-2zM398 444h2V462h-2zM400 444h2V462h-2zM402 444h2V462h-2zM404 444h2V461h-2zM406 444h2V459h-2zM408 444h2V456h-2zM410 444h2V454h-2zM412 444h2V451h-2zM414 444h2V448h-2zM416 444h2V447h-2zM418 444h2V446h-2zM420 444h2V446h-2zM422 444h2V445h-2zM424 444h2V446h-2zM426 444h2V446h-2zM428 444h2V447h-2zM430 444h2V447h-2zM432 444h2V447h-2zM434 444h2V448h-2zM436 444h2V449h-2zM438 444h2V450h-2zM440 444h2V452h-2zM442 444h2V455h-2zM444 444h2V458h-2zM446 444h2V461h-2zM448 444h2V464h-2zM450 444h2V465h-2zM452 444h2V465h-2zM454 444h2V461h-2zM456 444h2V458h-2zM458 444h2V456h-2zM460 444h2V455h-2zM462 444h2V454h-2zM464 444h2V457h-2zM466 444h2V459h-2zM468 444h2V462h-2zM470 444h2V463h-2zM472 444h2V464h-2zM474 444h2V463h-2zM476 444h2V462h-2zM478 444h2V459h-2zM480 444h2V457h-2zM482 444h2V455h-2zM484 444h2V453h-2zM486 444h2V452h-2zM488 444h2V452h-2zM490 444h2V452h-2zM492 444h2V453h-2zM494 444h2V452h-2zM496 444h2V452h-2zM498 444h2V451h-2zM500 444h2V451h-2zM502 444h2V450h-2zM504 444h2V450h-2zM506 444h2V449h-2zM508 444h2V448h-2zM510 444h2V447h-2zM512 444h2V446h-2zM514 444h2V445h-2zM516 444h2V445h-2zM518 444h2V445h-2zM534 444h2V445h-2zM536 444h2V445h-2zM538 444h2V447h-2zM540 444h2V448h-2zM542 444h2V449h-2zM544 444h2V449h-2zM546 444h2V448h-2zM548 444h2V446h-2zM550 443h2V444h-2zM552 439h2V444h-2zM554 436h2V444h-2zM556 433h2V444h-2zM558 431h2V444h-2zM560 428h2V444h-2zM562 426h2V444h-2zM564 424h2V444h-2zM566 423h2V444h-2zM568 422h2V444h-2zM570 422h2V444h-2zM572 422h2V444h-2zM574 423h2V444h-2zM576 424h2V444h-2zM578 426h2V444h-2zM580 427h2V444h-2zM582 428h2V444h-2zM584 429h2V444h-2zM586 428h2V444h-2zM588 428h2V444h-2zM590 427h2V444h-2zM592 425h2V444h-2zM594 423h2V444h-2zM596 421h2V444h-2zM598 418h2V444h-2zM600 415h2V444h-2zM602 412h2V444h-2zM604 411h2V444h-2zM606 411h2V444h-2zM608 412h2V444h-2zM610 412h2V444h-2zM612 414h2V444h-2zM614 416h2V444h-2zM616 419h2V444h-2zM618 422h2V444h-2zM620 425h2V444h-2zM622 428h2V444h-2zM624 430h2V444h-2zM626 432h2V444h-2zM628 433h2V444h-2zM630 434h2V444h-2zM632 435h2V444h-2zM634 436h2V444h-2zM636 436h2V444h-2zM638 436h2V444h-2zM640 435h2V444h-2zM642 434h2V444h-2zM644 432h2V444h-2zM646 430h2V444h-2zM648 429h2V444h-2zM650 428h2V444h-2zM652 428h2V444h-2zM654 427h2V444h-2zM656 427h2V444h-2zM658 427h2V444h-2zM660 427h2V444h-2zM662 426h2V444h-2zM664 425h2V444h-2zM666 425h2V444h-2zM668 424h2V444h-2zM670 423h2V444h-2zM672 424h2V444h-2zM674 425h2V444h-2zM676 426h2V444h-2zM678 427h2V444h-2zM680 427h2V444h-2zM682 427h2V444h-2zM684 428h2V444h-2zM686 429h2V444h-2zM688 431h2V444h-2zM690 439h2V444h-2zM692 444h2V445h-2zM694 444h2V452h-2zM696 444h2V457h-2zM698 444h2V459h-2zM700 444h2V460h-2zM702 444h2V462h-2zM704 444h2V463h-2zM706 444h2V464h-2zM708 444h2V464h-2zM710 444h2V466h-2zM712 444h2V467h-2zM714 444h2V469h-2zM716 444h2V470h-2zM718 444h2V471h-2zM720 444h2V471h-2zM722 444h2V471h-2zM724 444h2V471h-2zM726 444h2V471h-2zM728 444h2V470h-2zM730 444h2V469h-2zM732 444h2V468h-2zM734 444h2V467h-2zM736 444h2V466h-2zM738 444h2V465h-2zM740 444h2V464h-2zM742 444h2V463h-2zM744 444h2V462h-2zM746 444h2V461h-2zM748 444h2V460h-2zM750 444h2V459h-2zM752 444h2V458h-2zM754 444h2V458h-2zM756 444h2V457h-2zM758 444h2V457h-2zM760 444h2V456h-2zM762 444h2V454h-2zM764 444h2V449h-2zM766 444h2V446h-2zM768 443h2V444h-2zM770 441h2V444h-2zM772 440h2V444h-2zM774 438h2V444h-2zM776 437h2V444h-2zM778 436h2V444h-2zM780 436h2V444h-2zM782 437h2V444h-2zM784 438h2V444h-2zM786 439h2V444h-2zM788 440h2V444h-2zM790 443h2V444h-2zM792 444h2V445h-2zM794 444h2V446h-2zM796 444h2V448h-2zM798 444h2V448h-2zM800 444h2V447h-2zM802 444h2V445h-2zM806 443h2V444h-2zM808 442h2V444h-2zM810 442h2V444h-2zM812 442h2V444h-2zM814 443h2V444h-2zM818 444h2V446h-2zM820 444h2V446h-2zM822 444h2V446h-2zM824 444h2V445h-2zM826 444h2V445h-2zM832 444h2V445h-2zM834 444h2V445h-2zM836 444h2V445h-2zM838 444h2V445h-2zM844 442h2V444h-2zM846 441h2V444h-2zM848 440h2V444h-2zM850 439h2V444h-2zM852 439h2V444h-2zM854 439h2V444h-2zM856 440h2V444h-2zM858 441h2V444h-2zM860 443h2V444h-2zM862 444h2V446h-2zM864 444h2V448h-2zM866 444h2V450h-2zM868 444h2V452h-2zM870 444h2V453h-2zM872 444h2V453h-2zM874 444h2V452h-2zM876 444h2V451h-2zM878 444h2V448h-2zM880 444h2V445h-2zM882 444h2V445h-2zM884 444h2V445h-2zM896 443h2V444h-2zM898 443h2V444h-2zM900 443h2V444h-2zM902 442h2V444h-2zM904 441h2V444h-2zM906 441h2V444h-2zM910 444h2V446h-2zM912 444h2V448h-2zM914 444h2V450h-2zM916 444h2V451h-2zM918 444h2V451h-2zM920 444h2V452h-2zM922 444h2V453h-2zM924 444h2V454h-2zM926 444h2V455h-2zM928 444h2V456h-2z" fill="#c0c0c0"/>
<path d="M4.5 443v1M5.5 442v1M6.5 441v1M7.5 440v1M8.5 439v1M9.5 438v1M10.5 437v1M11.5 436v1M12.5 435v1M13.5 433v2M14.5 432v1M15.5 431v1M16.5 431v1M17.5 430v1M18.5 430v1M19.5 430v1M20.5 430v1M21.5 430v1M22.5 430v1M23.5 430v1M24.5 431v1M25.5 431v1M26.5 432v1M27.5 432v1M28.5 433v1M29.5 434v1M30.5 435v1M31.5 436v1M32.5 437v1M33.5 437v1M34.5 438v1M35.5 439v1M36.5 440v1M37.5 440v1M38.5 441v1M39.5 441v1M40.5 442v1M41.5 442v1M42.5 442v1M43.5 442v1M44.5 441v1M45.5 441v1M46.5 440v1M47.5 440v1M48.5 439v1M49.5 439v1M50.5 438v1M51.5 438v1M52.5 437v1M53.5 436v1M54.5 436v1M55.5 435v1M56.5 435v1M57.5 434v1M58.5 434v1M59.5 434v1M60.5 434v1M61.5 434v1M62.5 434v1M63.5 435v1M64.5 435v1M65.5 436v1M66.5 436v1M67.5 436v1M68.5 437v1M69.5 437v1M70.5 438v1M71.5 438v1M72.5 438v1M73.5 439v1M74.5 439v1M75.5 440v1M76.5 440v1M77.5 440v1M78.5 441v1M79.5 441v1M80.5 440v1M81.5 440v1M82.5 439v1M83.5 439v1M84.5 438v1M85.5 438v1M86.5 437v1M87.5 437v1M88.5 436v1M89.5 435v1M90.5 435v1M91.5 434v1M92.5 433v1M93.5 431v2M94.5 430v1M95.5 429v1M96.5 428v1M97.5 427v1M98.5 426v1M99.5 425v1M100.5 424v1M101.5 423v1M102.5 422v1M103.5 421v1M104.5 420v1M105.5 419v1M106.5 418v1M107.5 418v1M108.5 418v1M109.5 418v1M110.5 418v1M111.5 418v1M112.5 418v1M113.5 418v1M114.5 419v1M115.5 420v1M116.5 421v1M117.5 422v1M118.5 423v1M119.5 424v2M120.5 426v1M121.5 427v1M122.5 428v2M123.5 430v2M124.5 432v2M125.5 434v1M126.5 435v2M127.5 437v1M128.5 438v1M129.5 439v1M130.5 440v2M131.5 442v1M132.5 443v1M133.5 444v1M134.5 444v1M135.5 445v1M136.5 445v1M137.5 445v1M138.5 446v1M139.5 446v1M140.5 446v1M141.5 446v1M142.5 446v1M143.5 446v1M144.5 446v1M145.5 446v1M146.5 446v1M147.5 446v1M148.5 446v1M149.5 446v1M150.5 446v1M151.5 446v1M152.5 446v1M153.5 446v1M154.5 446v1M155.5 446v1M156.5 446v1M157.5 446v1M158.5 446v1M159.5 446v1M160.5 446v1M161.5 446v1M162.5 446v1M163.5 445v1M164.5 445v1M165.5 445v1M166.5 444v1M167.5 444v1M168.5 444v1M169.5 443v1M170.5 443v1M171.5 442v1M172.5 442v1M173.5 441v1M174.5 441v1M175.5 441v1M176.5 440v1M177.5 440v1M178.5 440v1M179.5 439v1M180.5 439v1M181.5 439v1M182.5 438v1M183.5 438v1M184.5 438v1M185.5 438v1M186.5 437v1M187.5 437v1M188.5 437v1M189.5 436v1M190.5 436v1M191.5 435v1M192.5 434v1M193.5 433v1M194.5 432v1M195.5 431v1M196.5 431v1M197.5 430v1M198.5 429v1M199.5 429v1M200.5 428v1M201.5 427v1M202.5 427v1M203.5 426v1M204.5 426v1M205.5 425v1M206.5 425v1M207.5 425v1M208.5 425v1M209.5 425v1M210.5 426v1M211.5 426v1M212.5 426v1M213.5 427v1M214.5 427v1M215.5 428v1M216.5 428v1M217.5 429v1M218.5 430v1M219.5 431v2M220.5 433v1M221.5 434v1M222.5 435v1M223.5 436v1M224.5 437v2M225.5 439v1M226.5 440v1M227.5 441v1M228.5 442v1M229.5 443v2M230.5 445v1M231.5 446v1M232.5 447v1M233.5 448v1M234.5 448v1M235.5 449v1M236.5 450v1M237.5 451v1M238.5 452v1M239.5 452v1M240.5 453v1M241.5 453v1M242.5 453v1M243.5 453v1M244.5 453v1M245.5 452v1M246.5 452v1M247.5 452v1M248.5 451v1M249.5 450v1M250.5 450v1M251.5 449v1M252.5 449v1M253.5 448v1M254.5 448v1M255.5 448v1M256.5 448v1M257.5 448v1M258.5 448v1M259.5 448v1M260.5 448v1M261.5 448v1M262.5 448v1M263.5 448v1M264.5 448v1M265.5 448v1M266.5 447v1M267.5 447v1M268.5 447v1M269.5 446v1M270.5 446v1M271.5 446v1M272.5 446v1M273.5 446v1M274.5 446v1M275.5 446v1M276.5 446v1M277.5 446v1M278.5 445v1M279.5 445v1M280.5 445v1M281.5 445v1M282.5 445v1M283.5 445v1M284.5 446v1M285.5 446v1M286.5 446v1M287.5 446v1M288.5 446v1M289.5 446v1M290.5 446v1M291.5 446v1M292.5 447v1M293.5 447v1M294.5 447v1M295.5 447v1M296.5 446v1M297.5 446v1M298.5 446v1M299.5 446v1M300.5 446v1M301.5 445v1M302.5 445v1M303.5 444v1M304.5 444v1M305.5 444v1M306.5 443v1M307.5 443v1M308.5 443v1M309.5 443v1M310.5 443v1M311.5 443v1M312.5 443v1M313.5 443v1M314.5 443v1M315.5 444v1M316.5 445v1M317.5 445v1M318.5 446v1M319.5 447v1M320.5 448v1M321.5 449v1M322.5 450v1M323.5 451v1M324.5 452v1M325.5 453v1M326.5 454v1M327.5 455v1M328.5 455v1M329.5 456v1M330.5 456v1M331.5 457v1M332.5 457v1M333.5 458v1M334.5 458v1M335.5 458v1M336.5 457v1M337.5 457v1M338.5 457v1M339.5 456v1M340.5 456v1M341.5 455v1M342.5 455v1M343.5 454v1M344.5 454v1M345.5 454v1M346.5 454v1M347.5 453v1M348.5 453v1M349.5 453v1M350.5 453v1M351.5 453v1M352.5 453v1M353.5 453v1M354.5 453v1M355.5 453v1M356.5 453v1M357.5 453v1M358.5 453v1M359.5 454v1M360.5 454v1M361.5 454v1M362.5 454v1M363.5 454v1M364.5 454v1M365.5 453v1M366.5 453v1M367.5 453v1M368.5 453v1M369.5 453v1M370.5 452v1M371.5 452v1M372.5 452v1M373.5 452v1M374.5 452v1M375.5 452v1M376.5 452v1M377.5 453v1M378.5 453v1M379.5 453v1M380.5 453v1M381.5 454v1M382.5 455v1M383.5 455v1M384.5 456v1M385.5 456v1M386.5 457v1M387.5 457v1M388.5 457v1M389.5 458v1M390.5 458v1M391.5 458v1M392.5 459v1M393.5 459v1M394.5 459v1M395.5 460v1M396.5 460v1M397.5 460v1M398.5 460v1M399.5 461v1M400.5 461v1M401.5 461v1M402.5 461v1M403.5 461v1M404.5 461v1M405.5 461v1M406.5 460v1M407.5 460v1M408.5 460v1M409.5 459v1M410.5 459v1M411.5 458v1M412.5 457v1M413.5 457v1M414.5 456v1M415.5 455v1M416.5 454v1M417.5 453v1M418.5 453v1M419.5 452v1M420.5 451v1M421.5 450v1M422.5 449v1M423.5 448v1M424.5 447v1M425.5 447v1M426.5 446v1M427.5 446v1M428.5 446v1M429.5 446v1M430.5 446v1M431.5 446v1M432.5 446v1M433.5 446v1M434.5 446v1M435.5 446v1M436.5 446v1M437.5 446v1M438.5 446v1M439.5 447v1M440.5 447v1M441.5 448v1M442.5 448v1M443.5 449v1M444.5 450v1M445.5 450v1M446.5 451v1M447.5 452v1M448.5 453v1M449.5 454v1M450.5 454v1M451.5 455v1M452.5 456v1M453.5 457v1M454.5 457v1M455.5 458v1M456.5 458v1M457.5 459v1M458.5 459v1M459.5 460v1M460.5 460v1M461.5 460v1M462.5 459v1M463.5 459v1M464.5 458v1M465.5 458v1M466.5 458v1M467.5 458v1M468.5 458v1M469.5 458v1M470.5 458v1M471.5 458v1M472.5 458v1M473.5 458v1M474.5 458v1M475.5 458v1M476.5 458v1M477.5 459v1M478.5 459v1M479.5 459v1M480.5 459v1M481.5 459v1M482.5 459v1M483.5 459v1M484.5 458v1M485.5 458v1M486.5 457v1M487.5 457v1M488.5 456v1M489.5 456v1M490.5 455v1M491.5 455v1M492.5 454v1M493.5 454v1M494.5 454v1M495.5 453v1M496.5 453v1M497.5 452v1M498.5 452v1M499.5 452v1M500.5 452v1M501.5 451v1M502.5 451v1M503.5 451v1M504.5 451v1M505.5 451v1M506.5 450v1M507.5 450v1M508.5 450v1M509.5 449v1M510.5 449v1M511.5 448v1M512.5 448v1M513.5 448v1M514.5 448v1M515.5 447v1M516.5 447v1M517.5 447v1M518.5 447v1M519.5 447v1M520.5 446v1M521.5 446v1M522.5 446v1M523.5 446v1M524.5 446v1M525.5 445v1M526.5 445v1M527.5 445v1M528.5 445v1M529.5 445v1M530.5 445v1M531.5 445v1M532.5 445v1M533.5 445v1M534.5 445v1M535.5 444v1M536.5 444v1M537.5 444v1M538.5 444v1M539.5 444v1M540.5 444v1M541.5 444v1M542.5 445v1M543.5 445v1M544.5 446v1M545.5 446v1M546.5 446v1M547.5 446v1M548.5 446v1M549.5 446v1M550.5 446v1M551.5 445v1M552.5 445v1M553.5 444v1M554.5 444v1M555.5 443v1M556.5 443v1M557.5 442v1M558.5 442v1M559.5 441v1M560.5 441v1M561.5 439v2M562.5 437v2M563.5 436v1M564.5 434v2M565.5 433v1M566.5 431v2M567.5 430v1M568.5 429v1M569.5 428v1M570.5 427v1M571.5 426v1M572.5 425v1M573.5 425v1M574.5 424v1M575.5 424v1M576.5 423v1M577.5 423v1M578.5 423v1M579.5 423v1M580.5 424v1M581.5 424v1M582.5 424v1M583.5 424v1M584.5 425v1M585.5 425v1M586.5 426v1M587.5 426v1M588.5 426v1M589.5 426v1M590.5 426v1M591.5 426v1M592.5 426v1M593.5 426v1M594.5 426v1M595.5 426v1M596.5 425v1M597.5 425v1M598.5 425v1M599.5 424v1M600.5 424v1M601.5 423v1M602.5 421v2M603.5 420v1M604.5 419v1M605.5 418v1M606.5 417v1M607.5 416v1M608.5 415v1M609.5 415v1M610.5 414v1M611.5 414v1M612.5 414v1M613.5 414v1M614.5 414v1M615.5 414v1M616.5 414v1M617.5 414v1M618.5 414v1M619.5 415v1M620.5 416v1M621.5 416v1M622.5 417v1M623.5 418v1M624.5 419v2M625.5 421v1M626.5 422v1M627.5 423v1M628.5 424v1M629.5 425v1M630.5 426v1M631.5 427v1M632.5 428v2M633.5 430v1M634.5 431v1M635.5 431v1M636.5 432v1M637.5 432v1M638.5 433v1M639.5 433v1M640.5 434v1M641.5 434v1M642.5 434v1M643.5 435v1M644.5 435v1M645.5 435v1M646.5 434v1M647.5 434v1M648.5 434v1M649.5 433v1M650.5 433v1M651.5 432v1M652.5 432v1M653.5 432v1M654.5 431v1M655.5 431v1M656.5 430v1M657.5 430v1M658.5 430v1M659.5 429v1M660.5 429v1M661.5 428v1M662.5 428v1M663.5 428v1M664.5 427v1M665.5 427v1M666.5 426v1M667.5 426v1M668.5 426v1M669.5 426v1M670.5 426v1M671.5 426v1M672.5 426v1M673.5 426v1M674.5 426v1M675.5 426v1M676.5 426v1M677.5 426v1M678.5 426v1M679.5 426v1M680.5 426v1M681.5 426v1M682.5 426v1M683.5 426v1M684.5 426v1M685.5 426v1M686.5 426v1M687.5 427v1M688.5 427v1M689.5 428v1M690.5 428v1M691.5 429v1M692.5 430v2M693.5 432v1M694.5 433v2M695.5 435v1M696.5 436v2M697.5 438v1M698.5 439v2M699.5 441v2M700.5 443v2M701.5 445v3M702.5 448v2M703.5 450v2M704.5 452v2M705.5 454v1M706.5 455v2M707.5 457v1M708.5 458v1M709.5 459v1M710.5 460v1M711.5 461v1M712.5 462v1M713.5 462v1M714.5 463v1M715.5 463v1M716.5 464v1M717.5 464v1M718.5 464v1M719.5 465v1M720.5 465v1M721.5 466v1M722.5 466v1M723.5 467v1M724.5 467v1M725.5 468v1M726.5 468v1M727.5 469v1M728.5 469v1M729.5 470v1M730.5 470v1M731.5 470v1M732.5 470v1M733.5 470v1M734.5 470v1M735.5 470v1M736.5 469v1M737.5 469v1M738.5 469v1M739.5 468v1M740.5 468v1M741.5 467v1M742.5 467v1M743.5 466v1M744.5 466v1M745.5 465v1M746.5 465v1M747.5 464v1M748.5 464v1M749.5 463v1M750.5 463v1M751.5 462v1M752.5 461v1M753.5 461v1M754.5 460v1M755.5 460v1M756.5 459v1M757.5 459v1M758.5 459v1M759.5 458v1M760.5 458v1M761.5 457v1M762.5 457v1M763.5 456v1M764.5 456v1M765.5 455v1M766.5 455v1M767.5 454v1M768.5 453v1M769.5 453v1M770.5 452v1M771.5 451v1M772.5 449v2M773.5 448v1M774.5 447v1M775.5 446v1M776.5 445v1M777.5 444v1M778.5 443v1M779.5 442v1M780.5 441v1M781.5 441v1M782.5 440v1M783.5 439v1M784.5 439v1M785.5 438v1M786.5 438v1M787.5 438v1M788.5 438v1M789.5 438v1M790.5 438v1M791.5 438v1M792.5 438v1M793.5 438v1M794.5 439v1M795.5 439v1M796.5 440v1M797.5 440v1M798.5 441v1M799.5 441v1M800.5 442v1M801.5 442v1M802.5 442v1M803.5 443v1M804.5 443v1M805.5 443v1M806.5 443v1M807.5 444v1M808.5 444v1M809.5 444v1M810.5 444v1M811.5 444v1M812.5 443v1M813.5 443v1M814.5 443v1M815.5 443v1M816.5 443v1M817.5 443v1M818.5 443v1M819.5 443v1M820.5 443v1M821.5 443v1M822.5 444v1M823.5 444v1M824.5 444v1M825.5 444v1M826.5 444v1M827.5 444v1M828.5 444v1M829.5 444v1M830.5 444v1M831.5 444v1M832.5 445v1M833.5 445v1M834.5 445v1M835.5 445v1M836.5 445v1M837.5 445v1M838.5 445v1M839.5 445v1M840.5 445v1M841.5 445v1M842.5 444v1M843.5 444v1M844.5 444v1M845.5 444v1M846.5 443v1M847.5 443v1M848.5 443v1M849.5 442v1M850.5 442v1M851.5 441v1M852.5 441v1M853.5 440v1M854.5 440v1M855.5 440v1M856.5 440v1M857.5 440v1M858.5 440v1M859.5 440v1M860.5 440v1M861.5 440v1M862.5 440v1M863.5 440v1M864.5 440v1M865.5 441v1M866.5 442v1M867.5 442v1M868.5 443v1M869.5 444v1M870.5 445v1M871.5 445v1M872.5 446v1M873.5 447v1M874.5 447v1M875.5 448v1M876.5 448v1M877.5 449v1M878.5 449v1M879.5 450v1M880.5 450v1M881.5 450v1M882.5 449v1M883.5 449v1M884.5 449v1M885.5 448v1M886.5 448v1M887.5 447v1M888.5 447v1M889.5 446v1M890.5 446v1M891.5 446v1M892.5 446v1M893.5 446v1M894.5 446v1M895.5 446v1M896.5 446v1M897.5 445v1M898.5 445v1M899.5 445v1M900.5 445v1M901.5 445v1M902.5 444v1M903.5 444v1M904.5 444v1M905.5 444v1M906.5 444v1M907.5 444v1M908.5 444v1M909.5 444v1M910.5 444v1M911.5 444v1M912.5 444v1M913.5 444v1M914.5 444v1M915.5 444v1M916.5 444v1M917.5 444v1M918.5 445v1M919.5 445v1M920.5 446v1M921.5 446v1M922.5 447v1M923.5 447v1M924.5 448v1M925.5 449v1M926.5 449v1M927.5 450v1M928.5 450v1" stroke="#f00" stroke-width="1" fill="none"/>
<path d="M5 499.5H1166M5 527.5H1166" stroke="#c0c0c0" stroke-width="1" stroke-dasharray="3 3" fill="none"/>
<path d="M4.5 504v1M5.5 502v2M6.5 500v2M7.5 499v1M8.5 499v1M9.5 498v1M10.5 498v1M11.5 498v1M12.5 498v1M13.5 499v1M14.5 500v1M15.5 501v1M16.5 502v2M17.5 504v2M18.5 506v2M19.5 508v3M20.5 511v2M21.5 513v2M22.5 515v1M23.5 516v1M24.5 517v1M25.5 517v1M26.5 517v1M27.5 517v1M28.5 518v1M29.5 518v1M30.5 518v1M31.5 517v1M32.5 516v1M33.5 514v2M34.5 512v2M35.5 512v1M36.5 511v1M37.5 511v1M38.5 511v1M39.5 510v1M40.5 509v2M41.5 506v3M42.5 503v3M43.5 500v3M44.5 498v3M45.5 501v4M46.5 505v1M47.5 506v1M48.5 505v1M49.5 504v1M50.5 505v1M51.5 505v1M52.5 506v1M53.5 506v1M54.5 507v1M55.5 507v2M56.5 509v2M57.5 511v2M58.5 513v1M59.5 513v1M60.5 514v1M61.5 513v1M62.5 512v1M63.5 513v1M64.5 514v1M65.5 515v1M66.5 516v1M67.5 517v1M68.5 518v1M69.5 516v2M70.5 514v2M71.5 514v1M72.5 513v1M73.5 513v1M74.5 513v1M75.5 512v1M76.5 511v2M77.5 507v4M78.5 505v2M79.5 504v1M80.5 502v2M81.5 501v1M82.5 500v1M83.5 499v1M84.5 498v1M85.5 499v1M86.5 499v1M87.5 500v1M88.5 501v1M89.5 501v1M90.5 500v1M91.5 499v1M92.5 498v1M93.5 496v2M94.5 494v2M95.5 494v1M96.5 493v1M97.5 493v1M98.5 493v1M99.5 494v1M100.5 494v1M101.5 495v1M102.5 496v2M103.5 498v4M104.5 502v3M105.5 505v2M106.5 507v2M107.5 508v1M108.5 509v1M109.5 509v1M110.5 509v1M111.5 510v1M112.5 511v2M113.5 513v2M114.5 515v2M115.5 517v1M116.5 518v1M117.5 519v1M118.5 520v1M119.5 520v1M120.5 520v1M121.5 520v1M122.5 518v2M123.5 516v2M124.5 517v1M125.5 518v2M126.5 520v1M127.5 521v1M128.5 521v1M129.5 520v1M130.5 519v2M131.5 516v3M132.5 513v3M133.5 510v3M134.5 510v1M135.5 510v1M136.5 510v1M137.5 511v1M138.5 512v1M139.5 513v1M140.5 514v1M141.5 515v1M142.5 516v1M143.5 516v1M144.5 515v1M145.5 515v1M146.5 514v1M147.5 515v1M148.5 515v1M149.5 516v1M150.5 516v1M151.5 515v1M152.5 515v1M153.5 515v1M154.5 514v1M155.5 514v1M156.5 514v1M157.5 515v1M158.5 515v1M159.5 513v2M160.5 510v3M161.5 506v4M162.5 504v2M163.5 503v2M164.5 505v2M165.5 507v3M166.5 510v2M167.5 512v2M168.5 513v1M169.5 513v1M170.5 512v2M171.5 510v2M172.5 508v2M173.5 507v1M174.5 506v1M175.5 507v1M176.5 508v1M177.5 507v1M178.5 506v1M179.5 506v1M180.5 505v1M181.5 505v1M182.5 505v1M183.5 504v1M184.5 504v1M185.5 503v1M186.5 503v1M187.5 502v2M188.5 503v3M189.5 499v4M190.5 496v3M191.5 495v1M192.5 495v1M193.5 496v2M194.5 498v1M195.5 499v1M196.5 500v1M197.5 499v1M198.5 499v1M199.5 498v1M200.5 497v2M201.5 499v4M202.5 503v2M203.5 505v2M204.5 507v2M205.5 509v1M206.5 509v1M207.5 510v1M208.5 511v1M209.5 511v1M210.5 512v1M211.5 513v1M212.5 514v1M213.5 515v1M214.5 515v1M215.5 515v1M216.5 514v1M217.5 514v1M218.5 515v1M219.5 516v1M220.5 514v2M221.5 512v3M222.5 515v4M223.5 519v2M224.5 521v2M225.5 523v1M226.5 524v1M227.5 525v1M228.5 526v1M229.5 524v2M230.5 523v1M231.5 521v2M232.5 520v1M233.5 519v1M234.5 519v1M235.5 518v1M236.5 518v1M237.5 517v1M238.5 516v1M239.5 515v1M240.5 515v1M241.5 514v1M242.5 513v1M243.5 512v1M244.5 511v1M245.5 509v2M246.5 508v1M247.5 509v2M248.5 511v2M249.5 513v2M250.5 515v2M251.5 515v1M252.5 514v1M253.5 515v1M254.5 515v1M255.5 516v1M256.5 517v1M257.5 517v1M258.5 518v1M259.5 519v1M260.5 519v2M261.5 516v3M262.5 514v2M263.5 513v1M264.5 513v1M265.5 512v1M266.5 511v1M267.5 511v1M268.5 510v1M269.5 509v1M270.5 509v1M271.5 510v2M272.5 512v2M273.5 514v2M274.5 516v2M275.5 516v1M276.5 515v1M277.5 514v1M278.5 513v1M279.5 512v1M280.5 513v2M281.5 515v2M282.5 517v1M283.5 518v1M284.5 518v1M285.5 517v1M286.5 516v1M287.5 514v2M288.5 513v1M289.5 513v1M290.5 514v1M291.5 514v1M292.5 514v1M293.5 513v1M294.5 513v1M295.5 511v2M296.5 509v2M297.5 508v1M298.5 506v2M299.5 505v1M300.5 505v1M301.5 506v1M302.5 506v1M303.5 507v2M304.5 509v2M305.5 511v2M306.5 513v2M307.5 515v2M308.5 517v2M309.5 519v2M310.5 521v2M311.5 523v2M312.5 525v2M313.5 525v1M314.5 524v1M315.5 525v2M316.5 527v2M317.5 529v1M318.5 529v1M319.5 530v1M320.5 528v3M321.5 524v4M322.5 521v3M323.5 519v2M324.5 518v1M325.5 519v1M326.5 520v1M327.5 519v1M328.5 518v1M329.5 517v1M330.5 517v1M331.5 516v1M332.5 516v1M333.5 517v1M334.5 518v1M335.5 519v1M336.5 520v1M337.5 518v2M338.5 516v2M339.5 515v1M340.5 514v1M341.5 513v1M342.5 512v1M343.5 513v2M344.5 515v2M345.5 517v1M346.5 517v1M347.5 518v1M348.5 518v1M349.5 518v1M350.5 517v1M351.5 517v2M352.5 519v2M353.5 521v2M354.5 523v1M355.5 524v2M356.5 524v3M357.5 519v5M358.5 516v3M359.5 516v1M360.5 515v1M361.5 515v1M362.5 515v1M363.5 514v1M364.5 513v1M365.5 512v1M366.5 511v1M367.5 511v1M368.5 512v2M369.5 514v3M370.5 517v4M371.5 521v2M372.5 523v1M373.5 523v1M374.5 524v1M375.5 523v1M376.5 522v2M377.5 520v2M378.5 518v2M379.5 520v2M380.5 522v2M381.5 522v1M382.5 522v1M383.5 521v1M384.5 521v1M385.5 520v1M386.5 520v1M387.5 520v1M388.5 521v1M389.5 521v1M390.5 522v1M391.5 522v1M392.5 523v1M393.5 523v1M394.5 524v1M395.5 524v1M396.5 525v1M397.5 524v1M398.5 524v1M399.5 525v1M400.5 525v2M401.5 522v3M402.5 519v3M403.5 516v3M404.5 514v2M405.5 513v1M406.5 513v1M407.5 512v1M408.5 512v1M409.5 511v1M410.5 511v1M411.5 510v2M412.5 508v2M413.5 506v2M414.5 508v3M415.5 511v2M416.5 512v1M417.5 512v1M418.5 512v1M419.5 512v1M420.5 513v1M421.5 513v1M422.5 513v1M423.5 514v1M424.5 514v1M425.5 515v2M426.5 517v1M427.5 516v1M428.5 515v1M429.5 515v1M430.5 516v1M431.5 516v1M432.5 516v1M433.5 517v1M434.5 517v1M435.5 517v1M436.5 516v1M437.5 516v1M438.5 517v1M439.5 517v2M440.5 515v3M441.5 518v5M442.5 523v3M443.5 526v1M444.5 526v1M445.5 526v1M446.5 527v1M447.5 527v1M448.5 527v1M449.5 528v1M450.5 528v1M451.5 527v1M452.5 522v5M453.5 516v6M454.5 514v2M455.5 514v1M456.5 513v1M457.5 513v1M458.5 513v1M459.5 513v1M460.5 513v1M461.5 514v1M462.5 514v2M463.5 516v3M464.5 519v2M465.5 521v2M466.5 523v2M467.5 525v1M468.5 525v1M469.5 524v1M470.5 524v1M471.5 523v1M472.5 523v1M473.5 522v1M474.5 521v2M475.5 519v2M476.5 516v3M477.5 514v2M478.5 512v2M479.5 512v1M480.5 512v1M481.5 512v1M482.5 513v1M483.5 513v1M484.5 514v1M485.5 515v1M486.5 516v1M487.5 517v1M488.5 518v1M489.5 518v1M490.5 517v1M491.5 517v1M492.5 518v1M493.5 517v1M494.5 517v1M495.5 516v1M496.5 515v1M497.5 513v2M498.5 512v1M499.5 513v1M500.5 513v1M501.5 514v1M502.5 515v1M503.5 516v1M504.5 516v1M505.5 515v1M506.5 515v1M507.5 514v1M508.5 513v1M509.5 513v1M510.5 511v2M511.5 507v4M512.5 505v3M513.5 508v4M514.5 512v1M515.5 513v2M516.5 515v1M517.5 516v1M518.5 516v1M519.5 515v1M520.5 514v1M521.5 513v1M522.5 512v1M523.5 511v1M524.5 512v1M525.5 513v1M526.5 514v1M527.5 514v1M528.5 514v1M529.5 514v1M530.5 515v1M531.5 515v1M532.5 516v1M533.5 515v1M534.5 514v1M535.5 512v2M536.5 510v2M537.5 512v3M538.5 515v2M539.5 517v2M540.5 519v2M541.5 519v1M542.5 517v2M543.5 516v1M544.5 515v1M545.5 513v2M546.5 512v1M547.5 510v2M548.5 508v2M549.5 507v1M550.5 506v1M551.5 505v1M552.5 504v1M553.5 503v1M554.5 503v1M555.5 502v1M556.5 501v1M557.5 501v1M558.5 500v1M559.5 500v1M560.5 499v1M561.5 499v1M562.5 499v1M563.5 498v1M564.5 498v1M565.5 499v1M566.5 500v1M567.5 499v1M568.5 498v1M569.5 499v2M570.5 501v2M571.5 501v1M572.5 500v1M573.5 501v2M574.5 503v2M575.5 505v1M576.5 506v1M577.5 507v1M578.5 508v1M579.5 509v1M580.5 510v1M581.5 510v1M582.5 510v1M583.5 509v1M584.5 508v1M585.5 506v2M586.5 504v2M587.5 502v2M588.5 500v2M589.5 501v1M590.5 502v2M591.5 504v1M592.5 503v1M593.5 502v1M594.5 501v1M595.5 499v2M596.5 498v1M597.5 497v1M598.5 497v1M599.5 496v1M600.5 496v1M601.5 496v1M602.5 496v1M603.5 497v1M604.5 498v1M605.5 499v1M606.5 499v1M607.5 500v1M608.5 501v1M609.5 502v2M610.5 504v1M611.5 505v1M612.5 506v1M613.5 506v1M614.5 506v1M615.5 507v1M616.5 507v1M617.5 508v1M618.5 509v1M619.5 510v1M620.5 511v1M621.5 512v1M622.5 513v1M623.5 514v1M624.5 514v1M625.5 513v1M626.5 512v1M627.5 511v1M628.5 511v1M629.5 510v1M630.5 510v1M631.5 510v1M632.5 510v1M633.5 511v1M634.5 511v1M635.5 509v2M636.5 508v1M637.5 506v2M638.5 505v1M639.5 504v1M640.5 504v1M641.5 504v1M642.5 504v2M643.5 506v4M644.5 509v4M645.5 504v5M646.5 502v2M647.5 500v2M648.5 500v1M649.5 500v1M650.5 501v1M651.5 502v1M652.5 503v2M653.5 505v2M654.5 507v2M655.5 506v2M656.5 505v1M657.5 506v1M658.5 506v1M659.5 505v1M660.5 505v1M661.5 504v1M662.5 504v1M663.5 504v1M664.5 503v1M665.5 503v1M666.5 502v1M667.5 503v1M668.5 504v1M669.5 502v2M670.5 500v2M671.5 501v2M672.5 503v2M673.5 505v2M674.5 506v1M675.5 507v1M676.5 507v1M677.5 508v2M678.5 510v1M679.5 509v1M680.5 507v2M681.5 506v1M682.5 505v1M683.5 504v1M684.5 505v1M685.5 505v1M686.5 506v2M687.5 508v2M688.5 510v4M689.5 514v5M690.5 519v2M691.5 521v3M692.5 524v3M693.5 527v2M694.5 529v1M695.5 528v1M696.5 528v1M697.5 526v2M698.5 524v2M699.5 522v2M700.5 520v2M701.5 519v1M702.5 518v1M703.5 519v2M704.5 521v1M705.5 520v1M706.5 519v1M707.5 520v1M708.5 520v1M709.5 521v1M710.5 522v1M711.5 523v1M712.5 524v1M713.5 524v1M714.5 525v1M715.5 525v1M716.5 522v5M717.5 516v6M718.5 518v3M719.5 521v2M720.5 521v1M721.5 521v1M722.5 520v1M723.5 520v1M724.5 520v1M725.5 520v1M726.5 519v1M727.5 519v1M728.5 519v1M729.5 520v1M730.5 520v1M731.5 519v1M732.5 518v1M733.5 518v1M734.5 518v1M735.5 517v1M736.5 516v1M737.5 517v2M738.5 519v1M739.5 518v1M740.5 518v1M741.5 517v1M742.5 518v1M743.5 518v1M744.5 517v1M745.5 517v1M746.5 516v1M747.5 516v1M748.5 516v1M749.5 516v1M750.5 517v1M751.5 517v1M752.5 515v2M753.5 516v2M754.5 518v1M755.5 519v1M756.5 520v1M757.5 519v1M758.5 518v1M759.5 517v1M760.5 516v1M761.5 515v1M762.5 514v1M763.5 512v2M764.5 510v2M765.5 508v2M766.5 506v2M767.5 506v1M768.5 506v1M769.5 506v1M770.5 507v1M771.5 507v1M772.5 508v2M773.5 510v1M774.5 509v1M775.5 509v1M776.5 508v1M777.5 507v1M778.5 506v1M779.5 507v1M780.5 508v1M781.5 509v2M782.5 511v1M783.5 512v1M784.5 512v1M785.5 511v1M786.5 511v1M787.5 510v1M788.5 511v2M789.5 513v2M790.5 515v1M791.5 516v2M792.5 518v2M793.5 520v1M794.5 520v1M795.5 519v1M796.5 519v1M797.5 518v1M798.5 517v1M799.5 515v2M800.5 513v2M801.5 510v3M802.5 508v2M803.5 509v1M804.5 510v1M805.5 511v1M806.5 511v1M807.5 512v1M808.5 511v1M809.5 511v1M810.5 510v1M811.5 509v1M812.5 508v2M813.5 510v4M814.5 514v2M815.5 516v1M816.5 517v1M817.5 517v1M818.5 516v1M819.5 516v1M820.5 516v1M821.5 515v1M822.5 514v2M823.5 512v2M824.5 510v2M825.5 511v2M826.5 513v2M827.5 515v1M828.5 515v1M829.5 516v1M830.5 515v1M831.5 515v1M832.5 514v1M833.5 513v1M834.5 512v2M835.5 514v4M836.5 518v3M837.5 515v4M838.5 512v3M839.5 511v1M840.5 511v1M841.5 511v1M842.5 510v1M843.5 510v1M844.5 510v1M845.5 510v1M846.5 510v1M847.5 509v1M848.5 509v1M849.5 508v1M850.5 507v1M851.5 506v1M852.5 507v2M853.5 509v2M854.5 511v1M855.5 511v1M856.5 512v1M857.5 513v1M858.5 514v1M859.5 512v2M860.5 510v2M861.5 512v4M862.5 516v2M863.5 518v2M864.5 520v1M865.5 521v1M866.5 521v1M867.5 522v1M868.5 521v1M869.5 521v1M870.5 520v1M871.5 519v1M872.5 518v1M873.5 516v2M874.5 514v2M875.5 513v1M876.5 512v1M877.5 511v1M878.5 510v1M879.5 510v1M880.5 511v1M881.5 510v1M882.5 510v1M883.5 511v1M884.5 512v2M885.5 514v3M886.5 517v2M887.5 516v2M888.5 514v2M889.5 514v1M890.5 515v1M891.5 515v1M892.5 516v1M893.5 516v1M894.5 515v1M895.5 513v2M896.5 512v1M897.5 510v2M898.5 508v2M899.5 509v1M900.5 510v1M901.5 511v1M902.5 512v2M903.5 511v2M904.5 509v2M905.5 510v1M906.5 511v1M907.5 512v2M908.5 514v2M909.5 516v1M910.5 517v1M911.5 518v2M912.5 520v1M913.5 520v1M914.5 520v1M915.5 520v1M916.5 520v1M917.5 520v1M918.5 519v1M919.5 518v1M920.5 518v1M921.5 518v1M922.5 519v2M923.5 521v2M924.5 523v1M925.5 523v1M926.5 522v1M927.5 522v1" stroke="#1e90ff" stroke-width="1" fill="none"/>
<rect x="3" y="129" width="6" height="6" fill="#f00"/><rect x="5" y="131" width="2" height="2" fill="#fff"/>
<rect x="1160" y="129" width="6" height="6" fill="#f00"/><rect x="1162" y="131" width="2" height="2" fill="#fff"/>
<rect x="3" y="203" width="6" height="6" fill="#f00"/><rect x="5" y="205" width="2" height="2" fill="#fff"/>
<rect x="1160" y="203" width="6" height="6" fill="#f00"/><rect x="1162" y="205" width="2" height="2" fill="#fff"/>
<rect x="3" y="277" width="6" height="6" fill="#0f0"/><rect x="5" y="279" width="2" height="2" fill="#fff"/>
<rect x="1160" y="277" width="6" height="6" fill="#0f0"/><rect x="1162" y="279" width="2" height="2" fill="#fff"/>
<path d="M3.5 25V405 M3 25.5H1167 M1166.5 25V550 M3 404.5H1167 M3.5 406V476 M3 406.5H1167 M3 475.5H1167 M3.5 477V550 M3 477.5H1167 M3 549.5H1167 M1167 38.5h2 M1167 71.5h2 M1167 104.5h2 M1167 137.5h2 M1167 170.5h2 M1167 203.5h2 M1167 236.5h2 M1167 269.5h2 M1167 302.5h2 M1167 335.5h2 M1167 368.5h2 M1167 401.5h2 M4.5 550v3 M68.5 550v3 M132.5 550v3 M196.5 550v3 M260.5 550v3 M324.5 550v3 M388.5 550v3 M452.5 550v3 M516.5 550v3 M580.5 550v3 M644.5 550v3 M708.5 550v3 M772.5 550v3 M836.5 550v3 M900.5 550v3 M1167 408.5h1 M1167 444.5h1 M1167 474.5h1 M1167 479.5h1 M1167 547.5h1" stroke="#000" stroke-width="1" fill="none"/>
</svg>
<div class="a tag" style="top:126px;background:#f00"></div>
<div class="a tag" style="top:200px;background:#f00"></div>
<div class="a tag" style="top:274px;background:#0f0"></div>
<div class="a tag" style="top:347px;background:#00f"></div>
<div class="a" style="left:1168px;top:285px;width:40px;height:2px;background:#000"></div>
<svg class="a" style="left:0;top:26px" width="20" height="14"><path d="M7 10H14.2L10.6 5.8z" fill="#000"/></svg>
<div class="a" id="panel" style="left:5px;top:43px;width:223px;height:61px;background:#fff"></div>
<div class="a rb" style="left:7px;top:45px;width:52px;height:25px;"></div>
<div class="a rb" style="left:174px;top:45px;width:52px;height:25px;"></div>
<div class="a rl" style="left:7px;top:69px;width:109px;height:33px;"></div>
<div class="a rl" style="left:118px;top:69px;width:108px;height:33px;"></div>
<div class="a" style="left:11px;top:68px;width:44px;height:1px;background:#8b0000"></div>
<div class="a" style="left:178px;top:68px;width:44px;height:1px;background:#8b0000"></div>
<div class="a" style="left:11px;top:69px;width:44px;height:1px;background:#e86060"></div>
<div class="a" style="left:178px;top:69px;width:44px;height:1px;background:#e86060"></div>
<div class="a" style="left:61px;top:45px;width:111px;height:22px;border:1px solid #a9a9b4;background:#fff;box-sizing:border-box"></div>
<div class="a spb" style="left:62px;top:46px;width:20px;height:20px;"></div>
<div class="a spb" style="left:151px;top:46px;width:20px;height:20px;"></div>
<div class="a" style="left:68px;top:54px;width:0;height:0;border-left:3.5px solid transparent;border-right:3.5px solid transparent;border-top:4px solid #4a5fc0"></div>
<div class="a" style="left:157px;top:54px;width:0;height:0;border-left:3.5px solid transparent;border-right:3.5px solid transparent;border-bottom:4px solid #4a5fc0"></div>

<svg class="a" style="left:0;top:0" width="240" height="110" viewBox="0 0 240 110"><path d="M55.4 74.1H69.6L60.6 97M86.95 80.2A6.45 6.45 0 1 0 74.05 80.2A6.45 6.45 0 1 0 86.95 80.2C87.15 89.2 84.10 96 79.30 96C77.50 96 75.70 95.5 74.50 94.6M180.05 80.2A6.45 6.45 0 1 0 167.15 80.2A6.45 6.45 0 1 0 180.05 80.2C180.25 89.2 177.20 96 172.40 96C170.60 96 168.80 95.5 167.60 94.6M184.0 74.1H198.2L189.2 97" stroke="#fff" stroke-width="2.5" fill="none" stroke-linejoin="miter"/></svg>
<div class="a" id="tabsl0"></div><div class="a" id="tabsl"></div><div class="a" id="tabs"></div>
<div class="a" style="left:0;top:592px;width:1208px;height:2px;background:#f4f4f4"></div>
<div class="a" style="left:0;top:573px;width:1px;height:18px;background:#696969"></div>
<div class="a" style="left:321px;top:572px;width:96px;height:19px;background:#fff;border:1px solid #000;border-top:none;box-sizing:border-box"></div>
<div class="a tsep" style="left:105px"></div>
<div class="a tsep" style="left:213px"></div>
<div class="a tsep" style="left:525px"></div>
<div class="a tsep" style="left:637px"></div>
<div class="a tsep" style="left:733px"></div>
<div class="a tsep" style="left:825px"></div>
<div class="a tsep" style="left:913px"></div>
<div class="a tsep" style="left:997px"></div>
<div class="a" style="left:1182px;top:578px;width:0;height:0;border-top:3px solid transparent;border-bottom:3px solid transparent;border-right:3px solid #8c8c8c"></div>
<div class="a" style="left:1201px;top:578px;width:0;height:0;border-top:3px solid transparent;border-bottom:3px solid transparent;border-left:3px solid #8c8c8c"></div>
<div class="t" style="left:0.5px;top:1px;font-size:9.8px;color:#404040">5</div>
<div class="t" style="left:15.4px;top:1px;font-size:9.8px;letter-spacing:-0.55px;color:#404040">M30</div>
<div class="t" style="left:46.5px;top:1px;font-size:9.8px;letter-spacing:-0.5px;color:#404040">H1</div>
<div class="t" style="left:73.6px;top:1px;font-size:9.8px;letter-spacing:0.4px;color:#404040">H4</div>
<div class="t" style="left:102.5px;top:1px;font-size:9.8px;letter-spacing:-0.5px;color:#404040">D1</div>
<div class="t" style="left:130px;top:1px;font-size:9.8px;color:#404040">W1</div>
<div class="t" style="left:156.5px;top:1px;font-size:9.8px;letter-spacing:-0.5px;color:#404040">MN</div>
<div class="t k" style="left:1172px;top:30px;font-size:9.8px;letter-spacing:-0.5px;color:#000">0.93775</div>
<div class="t k" style="left:1172px;top:63px;font-size:9.8px;letter-spacing:-0.5px;color:#000">0.93505</div>
<div class="t k" style="left:1172px;top:96px;font-size:9.8px;letter-spacing:-0.5px;color:#000">0.93235</div>
<div class="t k" style="left:1172px;top:129px;font-size:9.8px;letter-spacing:-0.5px;color:#000">0.92965</div>
<div class="t k" style="left:1172px;top:162px;font-size:9.8px;letter-spacing:-0.5px;color:#000">0.92695</div>
<div class="t k" style="left:1172px;top:195px;font-size:9.8px;letter-spacing:-0.5px;color:#000">0.92425</div>
<div class="t k" style="left:1172px;top:228px;font-size:9.8px;letter-spacing:-0.5px;color:#000">0.92155</div>
<div class="t k" style="left:1172px;top:261px;font-size:9.8px;letter-spacing:-0.5px;color:#000">0.91885</div>
<div class="t k" style="left:1172px;top:294px;font-size:9.8px;letter-spacing:-0.5px;color:#000">0.91620</div>
<div class="t k" style="left:1172px;top:327px;font-size:9.8px;letter-spacing:-0.5px;color:#000">0.91350</div>
<div class="t k" style="left:1172px;top:360px;font-size:9.8px;letter-spacing:-0.5px;color:#000">0.91080</div>
<div class="t k" style="left:1172px;top:393px;font-size:9.8px;letter-spacing:-0.5px;color:#000">0.90810</div>
<div class="t k" style="left:1172px;top:123px;font-size:9.8px;letter-spacing:-0.5px;color:#fff">0.93006</div>
<div class="t k" style="left:1172px;top:197px;font-size:9.8px;letter-spacing:-0.5px;color:#fff">0.92403</div>
<div class="t k" style="left:1172px;top:271px;font-size:9.8px;letter-spacing:-0.5px;color:#fff">0.91800</div>
<div class="t k" style="left:1172px;top:344px;font-size:9.8px;letter-spacing:-0.5px;color:#fff">0.91206</div>
<div class="t k" style="left:1170.5px;top:405px;font-size:9.8px;letter-spacing:-0.5px;color:#000">0.003811</div>
<div class="t k" style="left:1170.5px;top:436px;font-size:9.8px;letter-spacing:-0.5px;color:#000">0.00</div>
<div class="t k" style="left:1170px;top:460px;font-size:9.8px;letter-spacing:-0.5px;color:#000">-0.003115</div>
<div class="t k" style="left:1171px;top:476px;font-size:9.8px;letter-spacing:-0.5px;color:#000">100</div>
<div class="t k" style="left:1169.5px;top:491px;font-size:9.8px;letter-spacing:-0.5px;color:#000">70</div>
<div class="t k" style="left:1170.5px;top:519px;font-size:9.8px;letter-spacing:-0.5px;color:#000">30</div>
<div class="t k" style="left:1170.5px;top:534px;font-size:9.8px;letter-spacing:-0.5px;color:#000">0</div>
<div class="t k" style="left:3.2px;top:550px;font-size:9.8px;letter-spacing:-0.41px;color:#000">8 Sep 2021</div>
<div class="t k" style="left:67.5px;top:550px;font-size:9.8px;letter-spacing:-0.33px;color:#000">15 Sep 08:00</div>
<div class="t k" style="left:131.1px;top:550px;font-size:9.8px;letter-spacing:-0.28px;color:#000">22 Sep 16:00</div>
<div class="t k" style="left:195.5px;top:550px;font-size:9.8px;letter-spacing:-0.34px;color:#000">30 Sep 00:00</div>
<div class="t k" style="left:259.6px;top:550px;font-size:9.8px;letter-spacing:-0.28px;color:#000">7 Oct 08:00</div>
<div class="t k" style="left:323.7px;top:550px;font-size:9.8px;letter-spacing:-0.27px;color:#000">14 Oct 16:00</div>
<div class="t k" style="left:387px;top:550px;font-size:9.8px;letter-spacing:-0.2px;color:#000">22 Oct 00:00</div>
<div class="t k" style="left:451.1px;top:550px;font-size:9.8px;letter-spacing:-0.2px;color:#000">29 Oct 08:00</div>
<div class="t k" style="left:515.5px;top:550px;font-size:9.8px;letter-spacing:-0.16px;color:#000">5 Nov 16:00</div>
<div class="t k" style="left:579.6px;top:550px;font-size:9.8px;letter-spacing:-0.16px;color:#000">15 Nov 00:00</div>
<div class="t k" style="left:643.2px;top:550px;font-size:9.8px;letter-spacing:-0.1px;color:#000">22 Nov 08:00</div>
<div class="t k" style="left:707px;top:550px;font-size:9.8px;letter-spacing:-0.12px;color:#000">29 Nov 16:00</div>
<div class="t k" style="left:771.7px;top:550px;font-size:9.8px;letter-spacing:-0.35px;color:#000">7 Dec 00:00</div>
<div class="t k" style="left:836px;top:550px;font-size:9.8px;letter-spacing:-0.38px;color:#000">14 Dec 08:00</div>
<div class="t k" style="left:899.1px;top:550px;font-size:9.8px;letter-spacing:-0.26px;color:#000">21 Dec 16:00</div>
<div class="t k" style="left:19px;top:25px;font-size:10px;letter-spacing:-0.19px;color:#000">USDCHF-,H4</div>
<div class="t k" style="left:82.9px;top:25px;font-size:10px;letter-spacing:-0.43px;color:#000">0.91790</div>
<div class="t k" style="left:118.9px;top:25px;font-size:10px;letter-spacing:-0.27px;color:#000">0.91811</div>
<div class="t k" style="left:155px;top:25px;font-size:10px;letter-spacing:-0.43px;color:#000">0.91785</div>
<div class="t k" style="left:191.3px;top:25px;font-size:10px;letter-spacing:-0.43px;color:#000">0.91794</div>
<div class="t k" style="left:8.3px;top:407px;font-size:10px;letter-spacing:-0.3px;color:#000">MACD(12,26,9)</div>
<div class="t k" style="left:77.4px;top:407px;font-size:10px;letter-spacing:-0.49px;color:#000">-0.001134</div>
<div class="t k" style="left:121px;top:407px;font-size:10px;letter-spacing:-0.5px;color:#000">-0.000705</div>
<div class="t k" style="left:8.3px;top:478px;font-size:10px;letter-spacing:-0.4px;color:#000">RSI(14)</div>
<div class="t k" style="left:43px;top:478px;font-size:10px;letter-spacing:-0.5px;color:#000">37.1993</div>
<div class="t" style="left:19.5px;top:47px;font-size:12px;letter-spacing:-1.2px;color:#ffe8e8">SELL</div>
<div class="t" style="left:186.5px;top:47px;font-size:12px;letter-spacing:-0.05px;color:#ffe8e8">BUY</div>
<div class="t" style="left:26.8px;top:84px;font-size:12px;font-weight:bold;letter-spacing:0.03px;color:#fff">0.91</div>
<div class="t" style="left:137px;top:83px;font-size:12px;font-weight:bold;letter-spacing:-0.07px;color:#fff">0.91</div>
<div class="t" style="left:93.9px;top:67px;font-size:12px;font-weight:bold;color:#fff">4</div>
<div class="t" style="left:205px;top:66px;font-size:12px;font-weight:bold;color:#fff">2</div>
<div class="t" style="left:123.3px;top:46px;font-size:12.5px;letter-spacing:-0.23px;color:#000">3.00</div>
<div class="t" style="left:15.5px;top:573px;font-size:12.4px;letter-spacing:0.03px;color:#7d7d7d">USDX,Weekly</div>
<div class="t" style="left:115.5px;top:573px;font-size:12.4px;letter-spacing:-0.15px;color:#7d7d7d">EURUSD-,Daily</div>
<div class="t" style="left:223.25px;top:573px;font-size:12.4px;letter-spacing:-0.02px;color:#7d7d7d">AUDUSD-,Daily</div>
<div class="t" style="left:332.5px;top:573px;font-size:12.4px;letter-spacing:-0.33px;color:#000">USDCHF-,H4</div>
<div class="t" style="left:427.75px;top:573px;font-size:12.4px;letter-spacing:-0.08px;color:#7d7d7d">USDCAD-,Daily</div>
<div class="t" style="left:536.5px;top:573px;font-size:12.4px;color:#7d7d7d">USDCNH-,Daily</div>
<div class="t" style="left:648.3px;top:573px;font-size:12.4px;letter-spacing:-0.14px;color:#7d7d7d">XAUUSD-,H1</div>
<div class="t" style="left:743.6px;top:573px;font-size:12.4px;letter-spacing:0.22px;color:#7d7d7d">UKOil-,Daily</div>
<div class="t" style="left:836.4px;top:573px;font-size:12.4px;letter-spacing:0.06px;color:#7d7d7d">DJ30-,Daily</div>
<div class="t" style="left:923.7px;top:573px;font-size:12.4px;letter-spacing:0.19px;color:#7d7d7d">UK100-,H1</div>
</body></html>
